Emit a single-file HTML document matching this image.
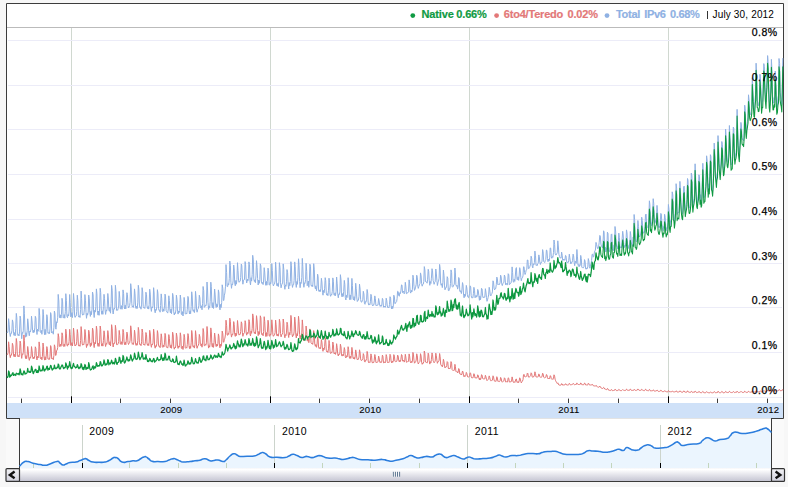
<!DOCTYPE html>
<html><head><meta charset="utf-8"><title>IPv6 adoption</title>
<style>
html,body{margin:0;padding:0;background:#f7f7f7;}
body{width:788px;height:487px;position:relative;overflow:hidden;font-family:"Liberation Sans",sans-serif;}
.t{position:absolute;white-space:nowrap;line-height:1;}
.lg{-webkit-text-stroke:0.2px currentColor;font-weight:bold;font-size:11px;top:9px;letter-spacing:-0.13px;word-spacing:-0.45px;}
.yl{-webkit-text-stroke:0.25px #000;font-size:10.5px;color:#000;text-align:right;width:40px;left:737.6px;letter-spacing:0.5px;}
.bl{-webkit-text-stroke:0.08px #000;font-size:9.6px;color:#000;letter-spacing:0.15px;}
.sl{font-size:10.5px;color:#000;letter-spacing:0.4px;}
</style></head><body>
<svg width="788" height="487" viewBox="0 0 788 487" style="position:absolute;left:0;top:0">
<defs><linearGradient id="sb" x1="0" y1="0" x2="0" y2="1"><stop offset="0" stop-color="#f6f6f8"/><stop offset="0.12" stop-color="#ffffff"/><stop offset="0.5" stop-color="#e6e6ec"/><stop offset="1" stop-color="#c6c6d3"/></linearGradient>
<linearGradient id="btn" x1="0" y1="0" x2="0" y2="1"><stop offset="0" stop-color="#f2f2f5"/><stop offset="1" stop-color="#d2d2de"/></linearGradient></defs>
<rect x="0" y="0" width="788" height="487" fill="#f7f7f7"/>
<rect x="6" y="418" width="778" height="64" fill="#fafafa"/>
<rect x="20" y="418" width="751" height="63" fill="#ffffff"/>
<rect x="20" y="418" width="751" height="1" fill="#e3e3e3"/>
<path d="M19.5 418 L19.5 481.5 M771.5 418 L771.5 481.5" fill="none" stroke="#3a3a3a" stroke-width="1"/>
<rect x="7" y="4" width="776" height="414" fill="#ffffff"/>
<path d="M19.5 418.5 L6.5 418.5 L6.5 3.5 L783.5 3.5 L783.5 418.5 L771.5 418.5" fill="none" stroke="#3c3c3c" stroke-width="1"/>
<rect x="7" y="27" width="776" height="1" fill="#bbbbbb"/>
<rect x="71" y="28" width="1" height="370" fill="#d0d8d0"/>
<rect x="270" y="28" width="1" height="370" fill="#d0d8d0"/>
<rect x="469" y="28" width="1" height="370" fill="#d0d8d0"/>
<rect x="668" y="28" width="1" height="370" fill="#d0d8d0"/>
<rect x="8" y="40" width="774" height="1" fill="#ececf8"/>
<rect x="8" y="85" width="774" height="1" fill="#ececf8"/>
<rect x="8" y="129" width="774" height="1" fill="#ececf8"/>
<rect x="8" y="174" width="774" height="1" fill="#ececf8"/>
<rect x="8" y="219" width="774" height="1" fill="#ececf8"/>
<rect x="8" y="263" width="774" height="1" fill="#ececf8"/>
<rect x="8" y="307" width="774" height="1" fill="#ececf8"/>
<rect x="8" y="352" width="774" height="1" fill="#ececf8"/>
<rect x="8" y="397" width="774" height="1" fill="#ececf8"/>
<rect x="7" y="403" width="776" height="15" fill="#cfe1f8"/>
<rect x="21" y="398.6" width="1" height="4.4" fill="#3c3c3c"/>
<rect x="71" y="396.3" width="1" height="6.7" fill="#000"/>
<rect x="120" y="398.6" width="1" height="4.4" fill="#3c3c3c"/>
<rect x="170" y="398.6" width="1" height="4.4" fill="#3c3c3c"/>
<rect x="220" y="398.6" width="1" height="4.4" fill="#3c3c3c"/>
<rect x="270" y="396.3" width="1" height="6.7" fill="#000"/>
<rect x="319" y="398.6" width="1" height="4.4" fill="#3c3c3c"/>
<rect x="369" y="398.6" width="1" height="4.4" fill="#3c3c3c"/>
<rect x="419" y="398.6" width="1" height="4.4" fill="#3c3c3c"/>
<rect x="469" y="396.3" width="1" height="6.7" fill="#000"/>
<rect x="518" y="398.6" width="1" height="4.4" fill="#3c3c3c"/>
<rect x="568" y="398.6" width="1" height="4.4" fill="#3c3c3c"/>
<rect x="618" y="398.6" width="1" height="4.4" fill="#3c3c3c"/>
<rect x="668" y="396.3" width="1" height="6.7" fill="#000"/>
<rect x="717" y="398.6" width="1" height="4.4" fill="#3c3c3c"/>
<rect x="767" y="398.6" width="1" height="4.4" fill="#3c3c3c"/>
<g fill="none" stroke-width="1" stroke-linejoin="round">
<path d="M7.0 332.4 L7.5 332.9 L8.1 330.6 L8.6 318.7 L9.2 324.2 L9.7 332.2 L10.3 336.5 L10.8 333.4 L11.4 333.5 L11.9 330.5 L12.4 319.9 L13.0 322.4 L13.5 333.4 L14.1 335.4 L14.6 332.6 L15.2 335.8 L15.7 328.5 L16.3 313.4 L16.8 317.7 L17.4 334.7 L17.9 335.4 L18.4 334.4 L19.0 335.9 L19.5 331.9 L20.1 316.1 L20.6 318.6 L21.2 332.4 L21.7 338.7 L22.3 332.4 L22.8 333.4 L23.3 330.7 L23.9 305.9 L24.4 313.4 L25.0 331.0 L25.5 337.2 L26.1 332.8 L26.6 336.4 L27.2 330.5 L27.7 318.8 L28.2 323.0 L28.8 333.2 L29.3 335.8 L29.9 331.0 L30.4 331.9 L31.0 329.0 L31.5 316.2 L32.1 322.0 L32.6 330.7 L33.2 332.8 L33.7 330.2 L34.2 332.3 L34.8 327.9 L35.3 316.3 L35.9 318.2 L36.4 329.8 L37.0 334.5 L37.5 329.1 L38.1 331.3 L38.6 329.4 L39.1 308.4 L39.7 315.8 L40.2 331.7 L40.8 332.6 L41.3 330.4 L41.9 334.3 L42.4 329.3 L43.0 309.5 L43.5 314.8 L44.0 330.0 L44.6 334.7 L45.1 329.3 L45.7 334.5 L46.2 329.3 L46.8 314.7 L47.3 316.8 L47.9 333.1 L48.4 333.5 L49.0 332.2 L49.5 333.6 L50.0 328.9 L50.6 312.6 L51.1 314.5 L51.7 333.0 L52.2 331.8 L52.8 331.9 L53.3 334.2 L53.9 327.2 L54.4 311.1 L54.9 313.4 L55.5 327.8 L56.0 329.2 L56.6 321.8 L57.1 322.7 L57.7 317.8 L58.2 294.4 L58.8 301.0 L59.3 316.1 L59.8 317.8 L60.4 314.8 L60.9 318.1 L61.5 314.7 L62.0 298.3 L62.6 301.9 L63.1 317.5 L63.7 318.1 L64.2 314.6 L64.8 318.2 L65.3 311.7 L65.8 293.7 L66.4 300.4 L66.9 316.4 L67.5 317.7 L68.0 314.5 L68.6 316.0 L69.1 311.1 L69.7 294.5 L70.2 302.3 L70.7 316.9 L71.3 316.1 L71.8 312.7 L72.4 317.6 L72.9 311.8 L73.5 293.5 L74.0 300.0 L74.6 315.9 L75.1 317.4 L75.6 316.0 L76.2 316.0 L76.7 311.7 L77.3 295.2 L77.8 300.5 L78.4 315.7 L78.9 317.1 L79.5 315.7 L80.0 317.5 L80.6 309.7 L81.1 291.1 L81.6 298.5 L82.2 313.9 L82.7 315.2 L83.3 313.9 L83.8 314.5 L84.4 309.2 L84.9 294.6 L85.5 300.8 L86.0 312.4 L86.5 318.3 L87.1 313.3 L87.6 315.1 L88.2 312.0 L88.7 295.0 L89.3 298.8 L89.8 312.3 L90.4 316.4 L90.9 311.4 L91.4 314.7 L92.0 309.2 L92.5 292.0 L93.1 294.7 L93.6 312.1 L94.2 317.5 L94.7 310.3 L95.3 312.1 L95.8 306.6 L96.4 288.9 L96.9 293.7 L97.4 310.6 L98.0 315.1 L98.5 311.2 L99.1 315.3 L99.6 308.1 L100.2 288.3 L100.7 292.6 L101.3 310.6 L101.8 314.3 L102.3 310.8 L102.9 314.3 L103.4 306.6 L104.0 294.3 L104.5 298.4 L105.1 310.2 L105.6 314.4 L106.2 310.1 L106.7 311.1 L107.2 308.0 L107.8 293.5 L108.3 298.0 L108.9 310.3 L109.4 311.3 L110.0 307.2 L110.5 313.2 L111.1 303.7 L111.6 285.4 L112.2 290.2 L112.7 310.7 L113.2 314.0 L113.8 308.7 L114.3 309.2 L114.9 307.2 L115.4 285.3 L116.0 291.8 L116.5 310.4 L117.1 309.6 L117.6 310.4 L118.1 308.8 L118.7 306.0 L119.2 291.4 L119.8 298.2 L120.3 308.9 L120.9 308.9 L121.4 305.6 L122.0 309.3 L122.5 305.7 L123.0 289.9 L123.6 293.6 L124.1 306.1 L124.7 309.0 L125.2 305.2 L125.8 308.9 L126.3 302.9 L126.9 292.7 L127.4 294.5 L128.0 305.5 L128.5 308.0 L129.0 307.0 L129.6 305.7 L130.1 302.4 L130.7 283.7 L131.2 287.9 L131.8 303.7 L132.3 307.1 L132.9 306.0 L133.4 307.4 L133.9 304.2 L134.5 288.9 L135.0 293.8 L135.6 307.0 L136.1 308.5 L136.7 306.2 L137.2 308.5 L137.8 302.2 L138.3 285.3 L138.8 289.0 L139.4 305.1 L139.9 307.5 L140.5 306.9 L141.0 309.2 L141.6 304.1 L142.1 287.7 L142.7 292.0 L143.2 306.4 L143.8 307.9 L144.3 307.6 L144.8 308.5 L145.4 304.1 L145.9 292.2 L146.5 294.7 L147.0 306.3 L147.6 308.6 L148.1 306.5 L148.7 309.1 L149.2 304.4 L149.7 289.2 L150.3 294.1 L150.8 307.5 L151.4 311.4 L151.9 306.9 L152.5 307.9 L153.0 305.8 L153.6 287.7 L154.1 293.0 L154.6 310.1 L155.2 312.8 L155.7 309.4 L156.3 310.3 L156.8 306.8 L157.4 289.7 L157.9 293.3 L158.5 308.3 L159.0 310.5 L159.6 310.2 L160.1 312.2 L160.6 305.6 L161.2 293.9 L161.7 298.2 L162.3 311.0 L162.8 311.7 L163.4 308.9 L163.9 311.2 L164.5 305.9 L165.0 294.1 L165.5 296.1 L166.1 310.4 L166.6 311.7 L167.2 312.2 L167.7 313.1 L168.3 308.9 L168.8 295.8 L169.4 300.6 L169.9 309.9 L170.4 312.8 L171.0 309.0 L171.5 313.7 L172.1 306.7 L172.6 293.4 L173.2 296.3 L173.7 311.9 L174.3 315.0 L174.8 312.8 L175.4 313.5 L175.9 309.8 L176.4 295.2 L177.0 299.7 L177.5 311.3 L178.1 314.1 L178.6 310.9 L179.2 312.6 L179.7 310.5 L180.3 295.0 L180.8 299.2 L181.3 314.2 L181.9 314.7 L182.4 311.6 L183.0 316.0 L183.5 311.8 L184.1 297.4 L184.6 301.0 L185.2 313.5 L185.7 314.2 L186.2 313.2 L186.8 313.9 L187.3 309.3 L187.9 296.4 L188.4 297.9 L189.0 310.4 L189.5 314.0 L190.1 310.8 L190.6 313.7 L191.2 306.6 L191.7 291.8 L192.2 296.0 L192.8 310.3 L193.3 311.4 L193.9 309.7 L194.4 312.6 L195.0 308.1 L195.5 291.4 L196.1 298.1 L196.6 310.3 L197.1 312.2 L197.7 309.4 L198.2 308.8 L198.8 305.8 L199.3 295.2 L199.9 298.0 L200.4 306.8 L201.0 308.1 L201.5 305.8 L202.0 309.8 L202.6 303.3 L203.1 286.5 L203.7 290.7 L204.2 307.3 L204.8 307.0 L205.3 305.4 L205.9 306.0 L206.4 303.2 L207.0 282.0 L207.5 289.0 L208.0 302.6 L208.6 309.4 L209.1 306.1 L209.7 307.8 L210.2 301.3 L210.8 282.2 L211.3 286.4 L211.9 305.9 L212.4 307.8 L212.9 302.6 L213.5 308.5 L214.0 302.0 L214.6 289.0 L215.1 294.1 L215.7 304.9 L216.2 307.5 L216.8 303.8 L217.3 306.9 L217.9 303.6 L218.4 289.9 L218.9 292.9 L219.5 307.2 L220.0 309.9 L220.6 304.4 L221.1 307.6 L221.7 302.7 L222.2 284.8 L222.8 288.4 L223.3 300.4 L223.8 300.5 L224.4 295.2 L224.9 293.0 L225.5 286.2 L226.0 264.6 L226.6 272.6 L227.1 286.5 L227.7 286.6 L228.2 283.6 L228.7 284.9 L229.3 278.7 L229.8 261.1 L230.4 265.6 L230.9 282.4 L231.5 288.3 L232.0 284.0 L232.6 284.7 L233.1 280.9 L233.7 265.0 L234.2 268.9 L234.7 283.0 L235.3 285.8 L235.8 280.5 L236.4 284.2 L236.9 279.7 L237.5 262.7 L238.0 270.4 L238.6 280.8 L239.1 282.3 L239.6 281.4 L240.2 281.2 L240.7 277.4 L241.3 264.1 L241.8 265.8 L242.4 279.1 L242.9 284.2 L243.5 280.3 L244.0 280.1 L244.5 279.0 L245.1 261.6 L245.6 264.8 L246.2 279.5 L246.7 283.0 L247.3 279.0 L247.8 281.1 L248.4 278.7 L248.9 261.9 L249.5 264.5 L250.0 281.9 L250.5 284.9 L251.1 277.7 L251.6 281.1 L252.2 274.5 L252.7 255.3 L253.3 259.8 L253.8 278.9 L254.4 281.5 L254.9 279.9 L255.4 282.7 L256.0 275.1 L256.5 260.7 L257.1 267.5 L257.6 278.7 L258.2 285.0 L258.7 280.1 L259.3 283.3 L259.8 279.7 L260.3 263.8 L260.9 266.0 L261.4 282.0 L262.0 283.5 L262.5 282.5 L263.1 284.6 L263.6 281.0 L264.2 267.7 L264.7 272.1 L265.3 281.4 L265.8 285.3 L266.3 281.3 L266.9 285.2 L267.4 281.5 L268.0 268.1 L268.5 270.3 L269.1 284.5 L269.6 285.2 L270.2 282.5 L270.7 283.9 L271.2 280.9 L271.8 263.6 L272.3 270.6 L272.9 283.8 L273.4 285.9 L274.0 284.5 L274.5 284.0 L275.1 280.9 L275.6 262.2 L276.1 269.7 L276.7 285.0 L277.2 286.0 L277.8 283.4 L278.3 286.6 L278.9 281.8 L279.4 262.7 L280.0 267.5 L280.5 282.8 L281.1 287.8 L281.6 284.8 L282.1 284.2 L282.7 282.1 L283.2 263.9 L283.8 269.7 L284.3 285.4 L284.9 289.3 L285.4 284.9 L286.0 286.3 L286.5 281.8 L287.0 269.6 L287.6 272.7 L288.1 284.1 L288.7 289.0 L289.2 282.6 L289.8 285.7 L290.3 281.5 L290.9 261.7 L291.4 265.8 L291.9 283.4 L292.5 287.4 L293.0 284.7 L293.6 284.7 L294.1 280.6 L294.7 261.9 L295.2 266.6 L295.8 283.7 L296.3 287.4 L296.9 281.5 L297.4 284.3 L297.9 277.4 L298.5 258.8 L299.0 265.2 L299.6 281.5 L300.1 287.7 L300.7 282.4 L301.2 283.4 L301.8 277.3 L302.3 258.4 L302.8 266.4 L303.4 284.0 L303.9 287.3 L304.5 282.8 L305.0 283.3 L305.6 279.6 L306.1 263.3 L306.7 271.4 L307.2 285.7 L307.7 284.8 L308.3 281.0 L308.8 287.3 L309.4 280.0 L309.9 264.2 L310.5 266.3 L311.0 285.1 L311.6 286.3 L312.1 285.0 L312.7 286.6 L313.2 280.0 L313.7 263.7 L314.3 269.8 L314.8 286.2 L315.4 288.9 L315.9 285.8 L316.5 290.7 L317.0 286.3 L317.6 274.2 L318.1 276.6 L318.6 290.9 L319.2 291.6 L319.7 289.9 L320.3 291.6 L320.8 288.8 L321.4 278.3 L321.9 282.1 L322.5 292.4 L323.0 295.2 L323.5 290.5 L324.1 292.7 L324.6 288.8 L325.2 277.7 L325.7 280.5 L326.3 293.2 L326.8 295.1 L327.4 293.7 L327.9 295.7 L328.5 290.2 L329.0 278.2 L329.5 282.6 L330.1 294.7 L330.6 296.3 L331.2 294.4 L331.7 295.1 L332.3 291.3 L332.8 277.9 L333.4 281.3 L333.9 294.6 L334.4 295.4 L335.0 292.9 L335.5 295.7 L336.1 291.2 L336.6 277.0 L337.2 283.8 L337.7 294.2 L338.3 297.8 L338.8 293.9 L339.3 294.5 L339.9 291.9 L340.4 274.7 L341.0 279.8 L341.5 295.7 L342.1 296.9 L342.6 293.6 L343.2 296.4 L343.7 291.5 L344.3 280.4 L344.8 284.4 L345.3 297.5 L345.9 300.0 L346.4 295.3 L347.0 297.6 L347.5 293.9 L348.1 277.7 L348.6 282.9 L349.2 297.1 L349.7 299.7 L350.2 294.9 L350.8 299.6 L351.3 294.2 L351.9 278.4 L352.4 285.5 L353.0 298.5 L353.5 300.0 L354.1 296.6 L354.6 300.5 L355.1 296.7 L355.7 283.3 L356.2 288.3 L356.8 298.0 L357.3 301.5 L357.9 300.3 L358.4 300.2 L359.0 296.3 L359.5 284.2 L360.1 289.1 L360.6 299.4 L361.1 301.9 L361.7 302.2 L362.2 300.9 L362.8 299.3 L363.3 291.3 L363.9 294.0 L364.4 303.2 L365.0 304.3 L365.5 301.6 L366.0 302.1 L366.6 299.2 L367.1 289.5 L367.7 293.1 L368.2 302.9 L368.8 305.1 L369.3 303.9 L369.9 304.7 L370.4 301.8 L370.9 294.3 L371.5 296.3 L372.0 304.3 L372.6 305.8 L373.1 304.8 L373.7 305.3 L374.2 302.9 L374.8 295.9 L375.3 298.4 L375.9 305.3 L376.4 305.9 L376.9 305.1 L377.5 305.2 L378.0 305.1 L378.6 298.5 L379.1 301.0 L379.7 305.2 L380.2 306.4 L380.8 305.2 L381.3 306.3 L381.8 305.0 L382.4 298.4 L382.9 299.7 L383.5 307.1 L384.0 307.0 L384.6 306.1 L385.1 307.4 L385.7 305.7 L386.2 298.2 L386.7 300.3 L387.3 306.0 L387.8 307.7 L388.4 307.1 L388.9 307.9 L389.5 304.6 L390.0 296.7 L390.6 298.2 L391.1 306.0 L391.7 309.0 L392.2 306.1 L392.7 308.6 L393.3 306.0 L393.8 295.2 L394.4 296.9 L394.9 303.7 L395.5 303.3 L396.0 302.2 L396.6 301.6 L397.1 298.6 L397.6 291.3 L398.2 291.7 L398.7 295.6 L399.3 296.2 L399.8 292.7 L400.4 293.6 L400.9 290.8 L401.5 284.9 L402.0 285.1 L402.5 292.6 L403.1 292.4 L403.6 291.2 L404.2 293.8 L404.7 292.4 L405.3 282.3 L405.8 286.1 L406.4 293.7 L406.9 293.6 L407.5 292.7 L408.0 292.7 L408.5 291.8 L409.1 279.9 L409.6 283.1 L410.2 291.7 L410.7 293.1 L411.3 290.3 L411.8 292.0 L412.4 289.2 L412.9 275.2 L413.4 277.4 L414.0 286.6 L414.5 290.4 L415.1 289.0 L415.6 287.2 L416.2 284.3 L416.7 275.2 L417.3 277.2 L417.8 286.3 L418.3 288.4 L418.9 286.3 L419.4 284.8 L420.0 283.4 L420.5 272.9 L421.1 275.8 L421.6 283.6 L422.2 286.2 L422.7 284.4 L423.3 284.1 L423.8 281.4 L424.3 266.6 L424.9 270.1 L425.4 281.4 L426.0 281.4 L426.5 282.3 L427.1 283.2 L427.6 279.8 L428.2 269.3 L428.7 271.4 L429.2 280.1 L429.8 285.3 L430.3 281.5 L430.9 283.5 L431.4 278.2 L432.0 268.7 L432.5 270.9 L433.1 280.4 L433.6 281.9 L434.1 284.3 L434.7 282.3 L435.2 281.7 L435.8 269.0 L436.3 273.1 L436.9 280.4 L437.4 285.5 L438.0 282.6 L438.5 281.5 L439.1 278.2 L439.6 264.4 L440.1 268.1 L440.7 283.7 L441.2 285.3 L441.8 283.6 L442.3 287.6 L442.9 282.3 L443.4 270.1 L444.0 275.6 L444.5 285.9 L445.0 289.8 L445.6 287.8 L446.1 287.9 L446.7 285.0 L447.2 276.7 L447.8 278.2 L448.3 290.4 L448.9 290.9 L449.4 288.6 L449.9 288.6 L450.5 283.5 L451.0 269.9 L451.6 272.4 L452.1 286.3 L452.7 287.2 L453.2 286.5 L453.8 285.0 L454.3 284.2 L454.9 268.0 L455.4 272.9 L455.9 284.9 L456.5 286.3 L457.0 285.3 L457.6 289.1 L458.1 287.2 L458.7 277.5 L459.2 278.5 L459.8 291.4 L460.3 291.8 L460.8 290.6 L461.4 293.6 L461.9 290.2 L462.5 282.6 L463.0 284.8 L463.6 295.2 L464.1 297.8 L464.7 294.1 L465.2 296.4 L465.7 294.0 L466.3 285.4 L466.8 288.0 L467.4 294.4 L467.9 297.1 L468.5 297.7 L469.0 295.8 L469.6 293.5 L470.1 285.8 L470.7 286.8 L471.2 295.7 L471.7 297.8 L472.3 297.7 L472.8 298.0 L473.4 293.7 L473.9 287.3 L474.5 290.2 L475.0 297.8 L475.6 297.1 L476.1 295.3 L476.6 297.2 L477.2 296.0 L477.7 289.4 L478.3 290.9 L478.8 295.6 L479.4 300.3 L479.9 295.9 L480.5 299.8 L481.0 296.3 L481.5 288.3 L482.1 289.1 L482.6 295.9 L483.2 297.8 L483.7 297.1 L484.3 297.2 L484.8 297.3 L485.4 288.7 L485.9 292.0 L486.5 297.6 L487.0 301.3 L487.5 299.9 L488.1 297.6 L488.6 294.9 L489.2 287.3 L489.7 289.9 L490.3 295.4 L490.8 296.0 L491.4 294.5 L491.9 293.5 L492.4 291.9 L493.0 280.8 L493.5 282.1 L494.1 288.4 L494.6 289.9 L495.2 288.4 L495.7 288.7 L496.3 284.5 L496.8 277.1 L497.3 278.2 L497.9 284.7 L498.4 284.0 L499.0 284.7 L499.5 284.4 L500.1 282.7 L500.6 275.2 L501.2 277.1 L501.7 283.8 L502.3 285.6 L502.8 283.8 L503.3 282.9 L503.9 282.2 L504.4 275.0 L505.0 276.8 L505.5 284.7 L506.1 283.2 L506.6 284.1 L507.2 285.1 L507.7 282.3 L508.2 273.7 L508.8 274.8 L509.3 284.7 L509.9 283.5 L510.4 283.6 L511.0 283.0 L511.5 280.2 L512.1 266.9 L512.6 272.6 L513.1 281.2 L513.7 282.3 L514.2 279.2 L514.8 281.4 L515.3 276.1 L515.9 268.5 L516.4 267.6 L517.0 279.7 L517.5 279.6 L518.1 276.8 L518.6 280.4 L519.1 276.2 L519.7 267.7 L520.2 270.0 L520.8 277.3 L521.3 280.7 L521.9 278.3 L522.4 277.8 L523.0 275.9 L523.5 266.9 L524.0 266.7 L524.6 272.7 L525.1 274.5 L525.7 272.5 L526.2 270.0 L526.8 269.3 L527.3 260.0 L527.9 260.0 L528.4 268.5 L528.9 268.7 L529.5 267.7 L530.0 266.2 L530.6 264.0 L531.1 256.2 L531.7 258.2 L532.2 265.9 L532.8 267.9 L533.3 263.8 L533.9 264.8 L534.4 262.6 L534.9 251.1 L535.5 255.8 L536.0 265.4 L536.6 265.0 L537.1 265.7 L537.7 263.7 L538.2 263.4 L538.8 254.9 L539.3 256.6 L539.8 262.4 L540.4 264.5 L540.9 262.3 L541.5 262.6 L542.0 261.2 L542.6 249.6 L543.1 251.5 L543.7 261.4 L544.2 262.1 L544.7 262.6 L545.3 260.6 L545.8 259.6 L546.4 250.0 L546.9 250.4 L547.5 258.7 L548.0 261.7 L548.6 259.1 L549.1 261.1 L549.7 257.8 L550.2 247.9 L550.7 248.2 L551.3 256.8 L551.8 258.3 L552.4 256.5 L552.9 257.3 L553.5 252.4 L554.0 240.0 L554.6 244.4 L555.1 253.3 L555.6 254.9 L556.2 254.9 L556.7 254.0 L557.3 252.5 L557.8 240.8 L558.4 247.0 L558.9 254.3 L559.5 256.5 L560.0 257.9 L560.5 257.9 L561.1 258.1 L561.6 252.1 L562.2 255.2 L562.7 260.6 L563.3 260.2 L563.8 259.0 L564.4 260.1 L564.9 260.2 L565.5 255.4 L566.0 255.8 L566.5 261.1 L567.1 262.8 L567.6 262.2 L568.2 262.6 L568.7 260.8 L569.3 254.2 L569.8 257.7 L570.4 262.0 L570.9 264.0 L571.4 262.3 L572.0 262.6 L572.5 260.6 L573.1 254.2 L573.6 255.8 L574.2 262.6 L574.7 265.7 L575.3 261.2 L575.8 262.6 L576.3 263.3 L576.9 249.5 L577.4 256.1 L578.0 265.2 L578.5 264.6 L579.1 266.8 L579.6 264.7 L580.2 265.4 L580.7 255.4 L581.3 258.5 L581.8 267.3 L582.3 267.5 L582.9 267.7 L583.4 267.8 L584.0 266.5 L584.5 259.6 L585.1 261.2 L585.6 268.8 L586.2 269.2 L586.7 267.9 L587.2 268.7 L587.8 266.9 L588.3 258.6 L588.9 261.2 L589.4 266.6 L590.0 268.3 L590.5 264.6 L591.1 263.6 L591.6 260.4 L592.1 254.3 L592.7 254.2 L593.2 257.2 L593.8 256.4 L594.3 252.9 L594.9 250.9 L595.4 250.1 L596.0 242.4 L596.5 244.3 L597.1 246.8 L597.6 248.5 L598.1 248.7 L598.7 246.1 L599.2 242.5 L599.8 235.4 L600.3 236.1 L600.9 244.1 L601.4 246.1 L602.0 246.9 L602.5 247.9 L603.0 242.6 L603.6 230.8 L604.1 232.2 L604.7 249.6 L605.2 247.1 L605.8 252.0 L606.3 249.9 L606.9 247.7 L607.4 232.2 L608.0 233.6 L608.5 249.4 L609.0 251.8 L609.6 251.4 L610.1 248.0 L610.7 246.3 L611.2 234.6 L611.8 233.9 L612.3 248.7 L612.9 250.3 L613.4 250.8 L613.9 244.9 L614.5 244.8 L615.0 226.5 L615.6 231.0 L616.1 242.1 L616.7 246.6 L617.2 246.3 L617.8 248.9 L618.3 243.5 L618.8 233.1 L619.4 237.7 L619.9 247.8 L620.5 247.8 L621.0 246.6 L621.6 247.9 L622.1 239.2 L622.7 231.3 L623.2 235.0 L623.8 244.7 L624.3 247.7 L624.8 245.4 L625.4 246.3 L625.9 242.5 L626.5 229.9 L627.0 233.0 L627.6 244.7 L628.1 245.8 L628.7 248.5 L629.2 244.6 L629.7 244.6 L630.3 231.5 L630.8 235.3 L631.4 243.9 L631.9 244.3 L632.5 246.4 L633.0 237.3 L633.6 238.3 L634.1 214.5 L634.6 219.2 L635.2 239.4 L635.7 239.7 L636.3 241.9 L636.8 240.4 L637.4 232.8 L637.9 220.5 L638.5 226.3 L639.0 235.1 L639.6 237.0 L640.1 235.7 L640.6 235.0 L641.2 230.9 L641.7 217.2 L642.3 220.6 L642.8 230.7 L643.4 233.3 L643.9 232.1 L644.5 232.3 L645.0 226.5 L645.5 214.6 L646.1 214.0 L646.6 224.4 L647.2 226.7 L647.7 227.5 L648.3 228.1 L648.8 219.2 L649.4 200.8 L649.9 204.7 L650.4 223.6 L651.0 222.6 L651.5 225.7 L652.1 219.8 L652.6 214.6 L653.2 198.7 L653.7 203.2 L654.3 219.4 L654.8 223.4 L655.4 222.2 L655.9 218.8 L656.4 217.9 L657.0 205.4 L657.5 211.2 L658.1 224.0 L658.6 226.9 L659.2 227.9 L659.7 225.5 L660.3 221.4 L660.8 213.4 L661.3 214.1 L661.9 223.7 L662.4 227.4 L663.0 230.9 L663.5 226.7 L664.1 227.0 L664.6 214.3 L665.2 217.4 L665.7 226.2 L666.2 230.7 L666.8 227.7 L667.3 228.5 L667.9 222.5 L668.4 204.5 L669.0 209.6 L669.5 222.4 L670.1 226.4 L670.6 220.3 L671.2 220.4 L671.7 210.5 L672.2 191.8 L672.8 194.9 L673.3 213.6 L673.9 214.8 L674.4 222.2 L675.0 216.9 L675.5 208.0 L676.1 183.7 L676.6 188.1 L677.1 214.5 L677.7 212.3 L678.2 212.4 L678.8 212.9 L679.3 205.3 L679.9 181.4 L680.4 189.0 L681.0 202.8 L681.5 208.4 L682.0 212.7 L682.6 213.9 L683.1 204.8 L683.7 186.8 L684.2 186.1 L684.8 202.5 L685.3 210.9 L685.9 206.8 L686.4 204.2 L687.0 199.4 L687.5 178.5 L688.0 180.3 L688.6 201.7 L689.1 207.6 L689.7 207.9 L690.2 205.7 L690.8 198.9 L691.3 173.1 L691.9 175.9 L692.4 200.0 L692.9 206.8 L693.5 200.7 L694.0 198.3 L694.6 193.1 L695.1 163.8 L695.7 179.3 L696.2 191.3 L696.8 201.6 L697.3 203.2 L697.8 197.9 L698.4 194.1 L698.9 174.8 L699.5 176.8 L700.0 198.6 L700.6 194.7 L701.1 201.9 L701.7 200.3 L702.2 186.4 L702.8 163.3 L703.3 173.4 L703.8 197.8 L704.4 196.6 L704.9 196.3 L705.5 186.5 L706.0 181.3 L706.6 155.8 L707.1 160.0 L707.7 176.7 L708.2 192.0 L708.7 183.8 L709.3 188.7 L709.8 176.5 L710.4 154.7 L710.9 156.4 L711.5 184.5 L712.0 186.0 L712.6 191.1 L713.1 183.4 L713.6 170.3 L714.2 143.1 L714.7 150.6 L715.3 170.1 L715.8 175.0 L716.4 182.4 L716.9 175.0 L717.5 171.9 L718.0 135.6 L718.6 148.1 L719.1 163.6 L719.6 167.8 L720.2 174.3 L720.7 167.0 L721.3 158.2 L721.8 141.5 L722.4 144.5 L722.9 161.9 L723.5 170.5 L724.0 169.2 L724.5 163.0 L725.1 157.6 L725.6 129.2 L726.2 137.7 L726.7 154.9 L727.3 161.2 L727.8 162.5 L728.4 157.1 L728.9 150.8 L729.4 125.5 L730.0 137.8 L730.5 151.0 L731.1 164.8 L731.6 163.8 L732.2 163.6 L732.7 151.0 L733.3 127.1 L733.8 128.3 L734.4 151.6 L734.9 158.7 L735.4 154.9 L736.0 152.5 L736.5 148.6 L737.1 109.4 L737.6 126.0 L738.2 145.2 L738.7 150.9 L739.3 156.3 L739.8 145.2 L740.3 137.7 L740.9 122.4 L741.4 125.0 L742.0 137.7 L742.5 139.5 L743.1 139.2 L743.6 140.9 L744.2 131.9 L744.7 105.2 L745.2 108.7 L745.8 127.2 L746.3 132.8 L746.9 124.9 L747.4 121.7 L748.0 117.1 L748.5 94.8 L749.1 101.0 L749.6 112.1 L750.2 114.9 L750.7 113.8 L751.2 111.5 L751.8 107.4 L752.3 77.7 L752.9 90.3 L753.4 101.6 L754.0 110.9 L754.5 111.5 L755.1 99.7 L755.6 94.3 L756.1 63.2 L756.7 76.6 L757.2 101.1 L757.8 102.0 L758.3 105.6 L758.9 105.3 L759.4 100.5 L760.0 74.3 L760.5 80.3 L761.0 93.4 L761.6 107.0 L762.1 101.1 L762.7 101.3 L763.2 85.8 L763.8 63.6 L764.3 66.4 L764.9 85.0 L765.4 94.7 L766.0 102.0 L766.5 87.7 L767.0 80.8 L767.6 55.6 L768.1 61.4 L768.7 84.0 L769.2 101.1 L769.8 105.5 L770.3 95.9 L770.9 85.1 L771.4 59.4 L771.9 69.5 L772.5 94.8 L773.0 103.1 L773.6 103.0 L774.1 97.7 L774.7 99.8 L775.2 71.1 L775.8 77.9 L776.3 96.9 L776.8 107.3 L777.4 105.6 L777.9 98.2 L778.5 95.3 L779.0 58.5 L779.6 63.4 L780.1 92.3 L780.7 97.0 L781.2 99.2 L781.8 104.6 L782.3 85.6 L782.8 58.1" stroke="#8fb1e3"/>
<path d="M7.0 354.3 L7.5 354.8 L8.1 352.6 L8.6 341.8 L9.2 346.6 L9.7 354.1 L10.3 357.7 L10.8 355.0 L11.4 355.2 L11.9 352.5 L12.4 343.3 L13.0 345.6 L13.5 355.0 L14.1 356.7 L14.6 354.3 L15.2 356.9 L15.7 351.1 L16.3 338.5 L16.8 342.2 L17.4 355.9 L17.9 356.6 L18.4 355.6 L19.0 356.9 L19.5 353.6 L20.1 341.1 L20.6 343.3 L21.2 354.1 L21.7 358.4 L22.3 353.8 L22.8 354.6 L23.3 352.5 L23.9 334.9 L24.4 340.6 L25.0 353.9 L25.5 358.5 L26.1 355.7 L26.6 358.7 L27.2 354.8 L27.7 346.5 L28.2 349.9 L28.8 358.1 L29.3 360.4 L29.9 357.5 L30.4 358.2 L31.0 356.0 L31.5 346.6 L32.1 350.8 L32.6 357.4 L33.2 358.9 L33.7 357.1 L34.2 358.5 L34.8 355.4 L35.3 346.8 L35.9 348.4 L36.4 356.9 L37.0 360.0 L37.5 356.4 L38.1 357.9 L38.6 356.3 L39.1 341.9 L39.7 346.9 L40.2 358.1 L40.8 358.8 L41.3 357.2 L41.9 359.8 L42.4 356.4 L43.0 343.0 L43.5 346.7 L44.0 357.1 L44.6 360.1 L45.1 356.7 L45.7 359.9 L46.2 356.5 L46.8 346.6 L47.3 348.3 L47.9 358.9 L48.4 359.4 L49.0 358.4 L49.5 359.4 L50.0 356.3 L50.6 345.6 L51.1 347.1 L51.7 358.9 L52.2 358.4 L52.8 358.2 L53.3 359.7 L53.9 355.4 L54.4 344.8 L54.9 346.6 L55.5 355.3 L56.0 355.4 L56.6 350.5 L57.1 350.3 L57.7 347.5 L58.2 333.7 L58.8 337.2 L59.3 346.3 L59.8 346.5 L60.4 344.2 L60.9 346.4 L61.5 344.0 L62.0 332.8 L62.6 335.4 L63.1 345.9 L63.7 346.5 L64.2 344.0 L64.8 346.4 L65.3 342.0 L65.8 329.2 L66.4 333.8 L66.9 345.1 L67.5 346.2 L68.0 343.9 L68.6 345.0 L69.1 341.5 L69.7 329.3 L70.2 334.7 L70.7 345.4 L71.3 345.2 L71.8 342.7 L72.4 346.0 L72.9 341.8 L73.5 328.1 L74.0 332.8 L74.6 344.7 L75.1 346.0 L75.6 344.9 L76.2 345.1 L76.7 341.8 L77.3 329.5 L77.8 333.5 L78.4 344.9 L78.9 346.1 L79.5 344.9 L80.0 346.3 L80.6 340.7 L81.1 326.6 L81.6 332.0 L82.2 344.0 L82.7 345.2 L83.3 344.1 L83.8 344.7 L84.4 340.8 L84.9 329.5 L85.5 334.1 L86.0 343.3 L86.5 347.5 L87.1 344.0 L87.6 345.4 L88.2 343.0 L88.7 330.2 L89.3 333.2 L89.8 343.6 L90.4 346.6 L90.9 343.0 L91.4 345.4 L92.0 341.3 L92.5 328.1 L93.1 330.4 L93.6 343.7 L94.2 347.6 L94.7 342.5 L95.3 344.0 L95.8 339.8 L96.4 326.2 L96.9 329.9 L97.4 343.0 L98.0 346.3 L98.5 343.4 L99.1 346.4 L99.6 341.1 L100.2 326.0 L100.7 329.5 L101.3 343.3 L101.8 346.1 L102.3 343.5 L102.9 346.1 L103.4 340.6 L104.0 330.8 L104.5 334.1 L105.1 343.4 L105.6 346.5 L106.2 343.4 L106.7 344.3 L107.2 341.8 L107.8 330.6 L108.3 334.1 L108.9 343.8 L109.4 344.8 L110.0 341.7 L110.5 346.0 L111.1 339.1 L111.6 324.7 L112.2 328.7 L112.7 344.4 L113.2 347.0 L113.8 343.1 L114.3 343.7 L114.9 341.9 L115.4 325.3 L116.0 330.3 L116.5 344.6 L117.1 344.3 L117.6 344.7 L118.1 343.8 L118.7 341.6 L119.2 330.4 L119.8 335.4 L120.3 344.0 L120.9 344.2 L121.4 341.7 L122.0 344.6 L122.5 341.7 L123.0 329.4 L123.6 332.5 L124.1 342.5 L124.7 344.7 L125.2 342.0 L125.8 344.7 L126.3 340.3 L126.9 332.1 L127.4 333.8 L128.0 342.5 L128.5 344.5 L129.0 343.5 L129.6 342.9 L130.1 340.2 L130.7 325.8 L131.2 329.2 L131.8 341.6 L132.3 344.3 L132.9 343.4 L133.4 344.5 L133.9 341.9 L134.5 330.2 L135.0 333.9 L135.6 344.1 L136.1 345.4 L136.7 343.5 L137.2 345.2 L137.8 340.5 L138.3 327.4 L138.8 330.4 L139.4 342.8 L139.9 344.7 L140.5 344.0 L141.0 345.7 L141.6 341.8 L142.1 329.0 L142.7 332.5 L143.2 343.7 L143.8 344.9 L144.3 344.4 L144.8 345.3 L145.4 341.9 L145.9 332.5 L146.5 334.6 L147.0 343.6 L147.6 345.4 L148.1 343.7 L148.7 345.6 L149.2 342.0 L149.7 330.3 L150.3 334.0 L150.8 344.4 L151.4 347.3 L151.9 344.0 L152.5 344.8 L153.0 342.9 L153.6 329.2 L154.1 333.2 L154.6 346.2 L155.2 348.2 L155.7 345.7 L156.3 346.5 L156.8 343.7 L157.4 330.6 L157.9 333.5 L158.5 345.0 L159.0 346.7 L159.6 346.2 L160.1 347.7 L160.6 342.9 L161.2 333.8 L161.7 337.0 L162.3 346.8 L162.8 347.4 L163.4 345.2 L163.9 346.9 L164.5 342.9 L165.0 333.4 L165.5 335.2 L166.1 346.1 L166.6 347.3 L167.2 347.3 L167.7 348.1 L168.3 344.9 L168.8 334.6 L169.4 338.3 L169.9 345.7 L170.4 347.8 L171.0 344.9 L171.5 348.3 L172.1 343.0 L172.6 332.2 L173.2 334.7 L173.7 346.8 L174.3 349.2 L174.8 347.4 L175.4 348.0 L175.9 345.0 L176.4 333.2 L177.0 336.8 L177.5 346.2 L178.1 348.4 L178.6 345.9 L179.2 347.2 L179.7 345.3 L180.3 332.8 L180.8 336.2 L181.3 348.1 L181.9 348.7 L182.4 346.2 L183.0 349.5 L183.5 346.1 L184.1 334.3 L184.6 337.2 L185.2 347.5 L185.7 348.3 L186.2 347.4 L186.8 348.1 L187.3 344.4 L187.9 333.6 L188.4 335.2 L189.0 345.7 L189.5 348.6 L190.1 346.0 L190.6 348.4 L191.2 342.8 L191.7 330.5 L192.2 334.0 L192.8 346.0 L193.3 347.2 L193.9 345.7 L194.4 348.1 L195.0 344.5 L195.5 330.7 L196.1 336.2 L196.6 346.6 L197.1 348.3 L197.7 346.0 L198.2 345.8 L198.8 343.3 L199.3 334.4 L199.9 336.9 L200.4 344.6 L201.0 345.8 L201.5 343.9 L202.0 347.2 L202.6 342.1 L203.1 328.5 L203.7 332.1 L204.2 345.6 L204.8 345.8 L205.3 344.4 L205.9 345.2 L206.4 342.8 L207.0 326.5 L207.5 332.0 L208.0 343.1 L208.6 348.1 L209.1 345.7 L209.7 347.1 L210.2 342.3 L210.8 327.9 L211.3 331.2 L211.9 345.6 L212.4 347.1 L212.9 343.4 L213.5 347.4 L214.0 342.8 L214.6 333.0 L215.1 336.8 L215.7 344.8 L216.2 346.6 L216.8 344.0 L217.3 346.1 L217.9 343.6 L218.4 333.9 L218.9 336.2 L219.5 346.1 L220.0 347.9 L220.6 344.2 L221.1 346.3 L221.7 343.0 L222.2 331.1 L222.8 333.8 L223.3 342.0 L223.8 342.3 L224.4 339.1 L224.9 338.2 L225.5 334.1 L226.0 320.2 L226.6 325.4 L227.1 334.9 L227.7 335.3 L228.2 333.3 L228.7 334.4 L229.3 330.3 L229.8 318.2 L230.4 321.4 L230.9 333.1 L231.5 337.1 L232.0 334.4 L232.6 335.1 L233.1 332.5 L233.7 321.6 L234.2 324.4 L234.7 334.4 L235.3 336.4 L235.8 333.0 L236.4 335.6 L236.9 332.5 L237.5 320.5 L238.0 325.9 L238.6 333.8 L239.1 335.1 L239.6 334.3 L240.2 334.4 L240.7 331.6 L241.3 321.8 L241.8 323.3 L242.4 332.9 L242.9 336.3 L243.5 333.6 L244.0 333.6 L244.5 332.5 L245.1 320.7 L245.6 322.8 L246.2 332.9 L246.7 335.2 L247.3 332.4 L247.8 333.8 L248.4 331.9 L248.9 319.7 L249.5 321.6 L250.0 333.9 L250.5 336.0 L251.1 331.0 L251.6 333.3 L252.2 328.4 L252.7 313.9 L253.3 317.2 L253.8 331.4 L254.4 333.4 L254.9 331.9 L255.4 333.9 L256.0 327.9 L256.5 315.7 L257.1 321.0 L257.6 330.7 L258.2 335.7 L258.7 331.6 L259.3 334.4 L259.8 330.9 L260.3 315.8 L260.9 317.9 L261.4 333.2 L262.0 334.8 L262.5 333.6 L263.1 335.8 L263.6 331.7 L264.2 316.7 L264.7 321.3 L265.3 332.3 L265.8 336.5 L266.3 332.5 L266.9 336.3 L267.4 332.6 L268.0 320.2 L268.5 323.0 L269.1 335.5 L269.6 336.3 L270.2 334.1 L270.7 335.2 L271.2 332.7 L271.8 319.8 L272.3 325.0 L272.9 334.8 L273.4 336.3 L274.0 335.1 L274.5 334.9 L275.1 332.6 L275.6 320.1 L276.1 324.8 L276.7 335.2 L277.2 336.0 L277.8 334.1 L278.3 336.2 L278.9 332.8 L279.4 319.3 L280.0 322.6 L280.5 333.5 L281.1 336.9 L281.6 334.7 L282.1 334.5 L282.7 332.6 L283.2 319.0 L283.8 323.2 L284.3 334.9 L284.9 337.8 L285.4 334.6 L286.0 335.6 L286.5 332.1 L287.0 322.2 L287.6 324.6 L288.1 333.8 L288.7 337.5 L289.2 332.5 L289.8 334.9 L290.3 331.4 L290.9 315.4 L291.4 319.1 L291.9 333.6 L292.5 336.9 L293.0 334.8 L293.6 335.2 L294.1 331.9 L294.7 317.1 L295.2 321.2 L295.8 334.9 L296.3 337.9 L296.9 333.6 L297.4 335.9 L297.9 330.8 L298.5 316.3 L299.0 321.4 L299.6 334.4 L300.1 339.1 L300.7 335.6 L301.2 336.9 L301.8 332.9 L302.3 319.9 L302.8 325.8 L303.4 338.2 L303.9 340.8 L304.5 338.1 L305.0 338.8 L305.6 336.5 L306.1 326.0 L306.7 331.3 L307.2 341.0 L307.7 340.9 L308.3 338.8 L308.8 342.7 L309.4 338.5 L309.9 328.9 L310.5 330.7 L311.0 342.6 L311.6 343.7 L312.1 343.1 L312.7 344.4 L313.2 340.7 L313.7 330.6 L314.3 334.4 L314.8 344.5 L315.4 346.3 L315.9 344.4 L316.5 347.3 L317.0 344.6 L317.6 336.9 L318.1 338.6 L318.6 347.7 L319.2 348.5 L319.7 347.5 L320.3 348.8 L320.8 346.9 L321.4 339.6 L321.9 342.1 L322.5 349.4 L323.0 351.3 L323.5 348.1 L324.1 349.7 L324.6 346.7 L325.2 337.7 L325.7 340.3 L326.3 350.3 L326.8 351.9 L327.4 350.9 L327.9 352.5 L328.5 348.8 L329.0 340.4 L329.5 343.7 L330.1 352.3 L330.6 353.5 L331.2 352.4 L331.7 353.1 L332.3 350.6 L332.8 342.0 L333.4 344.5 L333.9 353.2 L334.4 354.0 L335.0 352.6 L335.5 354.4 L336.1 351.8 L336.6 343.7 L337.2 347.7 L337.7 353.9 L338.3 356.0 L338.8 353.9 L339.3 354.5 L339.9 353.1 L340.4 344.2 L341.0 347.0 L341.5 355.3 L342.1 356.1 L342.6 354.5 L343.2 355.9 L343.7 353.5 L344.3 347.6 L344.8 349.8 L345.3 356.7 L345.9 358.0 L346.4 355.7 L347.0 357.0 L347.5 355.1 L348.1 346.7 L348.6 349.5 L349.2 356.9 L349.7 358.4 L350.2 356.1 L350.8 358.4 L351.3 355.7 L351.9 347.4 L352.4 351.0 L353.0 358.0 L353.5 358.9 L354.1 357.2 L354.6 359.2 L355.1 357.2 L355.7 349.9 L356.2 352.5 L356.8 358.0 L357.3 359.9 L357.9 359.2 L358.4 359.3 L359.0 357.0 L359.5 349.8 L360.1 352.5 L360.6 358.9 L361.1 360.4 L361.7 360.5 L362.2 359.9 L362.8 358.8 L363.3 353.6 L363.9 355.2 L364.4 361.2 L365.0 362.1 L365.5 360.3 L366.0 360.7 L366.6 358.6 L367.1 351.4 L367.7 353.9 L368.2 361.1 L368.8 362.8 L369.3 361.9 L369.9 362.5 L370.4 360.1 L370.9 353.9 L371.5 355.5 L372.0 362.0 L372.6 363.1 L373.1 362.2 L373.7 362.6 L374.2 360.5 L374.8 354.5 L375.3 356.5 L375.9 362.3 L376.4 362.8 L376.9 362.0 L377.5 362.1 L378.0 361.8 L378.6 356.0 L379.1 358.0 L379.7 361.8 L380.2 362.7 L380.8 361.6 L381.3 362.5 L381.8 361.2 L382.4 355.1 L382.9 356.2 L383.5 362.8 L384.0 362.8 L384.6 361.8 L385.1 362.9 L385.7 361.2 L386.2 354.6 L386.7 356.5 L387.3 361.5 L387.8 362.8 L388.4 362.1 L388.9 362.6 L389.5 360.2 L390.0 354.3 L390.6 355.6 L391.1 361.1 L391.7 362.9 L392.2 361.0 L392.7 362.4 L393.3 361.0 L393.8 354.6 L394.4 356.1 L394.9 361.2 L395.5 361.6 L396.0 361.3 L396.6 361.5 L397.1 360.0 L397.6 355.1 L398.2 356.1 L398.7 360.2 L399.3 361.9 L399.8 360.3 L400.4 361.5 L400.9 359.3 L401.5 354.5 L402.0 355.1 L402.5 361.0 L403.1 361.0 L403.6 360.2 L404.2 362.1 L404.7 361.0 L405.3 354.3 L405.8 356.9 L406.4 362.2 L406.9 362.3 L407.5 361.7 L408.0 361.9 L408.5 361.2 L409.1 353.9 L409.6 356.1 L410.2 361.6 L410.7 362.8 L411.3 361.3 L411.8 362.7 L412.4 361.1 L412.9 352.4 L413.4 354.1 L414.0 360.6 L414.5 363.2 L415.1 362.5 L415.6 361.8 L416.2 360.1 L416.7 353.8 L417.3 355.6 L417.8 362.2 L418.3 364.0 L418.9 362.7 L419.4 362.2 L420.0 361.3 L420.5 353.7 L421.1 356.1 L421.6 362.2 L422.2 364.3 L422.7 363.1 L423.3 363.3 L423.8 361.4 L424.3 351.0 L424.9 353.8 L425.4 362.0 L426.0 362.2 L426.5 362.5 L427.1 363.1 L427.6 360.7 L428.2 353.2 L428.7 354.8 L429.2 360.9 L429.8 364.1 L430.3 361.6 L430.9 362.9 L431.4 359.4 L432.0 352.9 L432.5 354.4 L433.1 360.7 L433.6 361.7 L434.1 362.8 L434.7 361.8 L435.2 361.1 L435.8 353.2 L436.3 355.7 L436.9 360.4 L437.4 363.3 L438.0 361.5 L438.5 361.5 L439.1 360.2 L439.6 353.5 L440.1 356.4 L440.7 364.4 L441.2 365.5 L441.8 365.1 L442.3 366.9 L442.9 364.7 L443.4 359.3 L444.0 361.6 L444.5 366.2 L445.0 367.9 L445.6 366.9 L446.1 367.1 L446.7 365.7 L447.2 361.6 L447.8 362.4 L448.3 368.2 L448.9 369.0 L449.4 368.3 L449.9 368.9 L450.5 367.1 L451.0 361.6 L451.6 363.2 L452.1 369.6 L452.7 370.4 L453.2 370.4 L453.8 370.4 L454.3 370.3 L454.9 364.3 L455.4 366.4 L455.9 371.3 L456.5 372.0 L457.0 371.5 L457.6 373.0 L458.1 372.3 L458.7 368.5 L459.2 369.1 L459.8 374.0 L460.3 374.3 L460.8 373.9 L461.4 375.0 L461.9 373.8 L462.5 371.0 L463.0 371.9 L463.6 375.8 L464.1 376.8 L464.7 375.5 L465.2 376.4 L465.7 375.6 L466.3 372.4 L466.8 373.4 L467.4 376.0 L467.9 377.0 L468.5 377.2 L469.0 376.7 L469.6 375.8 L470.1 372.8 L470.7 373.3 L471.2 376.9 L471.7 377.8 L472.3 377.8 L472.8 378.0 L473.4 376.4 L473.9 373.7 L474.5 375.0 L475.0 378.1 L475.6 378.0 L476.1 377.4 L476.6 378.2 L477.2 377.7 L477.7 374.8 L478.3 375.6 L478.8 377.8 L479.4 379.8 L479.9 378.0 L480.5 379.7 L481.0 378.2 L481.5 374.7 L482.1 375.2 L482.6 378.3 L483.2 379.1 L483.7 378.8 L484.3 378.9 L484.8 378.9 L485.4 375.3 L485.9 376.7 L486.5 379.3 L487.0 380.7 L487.5 380.2 L488.1 379.5 L488.6 378.8 L489.2 375.9 L489.7 377.3 L490.3 380.1 L490.8 380.8 L491.4 380.5 L491.9 380.6 L492.4 380.2 L493.0 375.8 L493.5 376.8 L494.1 380.1 L494.6 381.2 L495.2 380.9 L495.7 381.5 L496.3 380.0 L496.8 376.7 L497.3 377.7 L497.9 381.4 L498.4 381.3 L499.0 381.6 L499.5 381.6 L500.1 380.8 L500.6 377.4 L501.2 378.4 L501.7 381.4 L502.3 382.2 L502.8 381.5 L503.3 381.2 L503.9 380.8 L504.4 377.8 L505.0 378.6 L505.5 381.9 L506.1 381.5 L506.6 381.7 L507.2 382.2 L507.7 381.1 L508.2 377.8 L508.8 378.3 L509.3 382.1 L509.9 381.7 L510.4 381.8 L511.0 381.9 L511.5 381.1 L512.1 376.9 L512.6 378.9 L513.1 382.0 L513.7 382.5 L514.2 381.7 L514.8 382.5 L515.3 381.2 L515.9 379.1 L516.4 379.0 L517.0 382.4 L517.5 382.4 L518.1 381.5 L518.6 382.7 L519.1 381.2 L519.7 377.8 L520.2 378.6 L520.8 381.5 L521.3 382.9 L521.9 381.8 L522.4 381.2 L523.0 379.7 L523.5 374.8 L524.0 374.3 L524.6 376.6 L525.1 377.1 L525.7 376.7 L526.2 376.2 L526.8 376.3 L527.3 373.0 L527.9 373.6 L528.4 377.0 L528.9 377.3 L529.5 376.9 L530.0 376.5 L530.6 375.7 L531.1 372.8 L531.7 373.7 L532.2 376.7 L532.8 377.4 L533.3 376.1 L533.9 376.6 L534.4 375.8 L534.9 371.8 L535.5 373.5 L536.0 377.0 L536.6 377.0 L537.1 377.3 L537.7 376.8 L538.2 376.7 L538.8 373.9 L539.3 374.6 L539.8 376.7 L540.4 377.4 L540.9 376.8 L541.5 377.1 L542.0 376.7 L542.6 373.2 L543.1 374.0 L543.7 377.2 L544.2 377.6 L544.7 377.8 L545.3 377.5 L545.8 377.3 L546.4 374.5 L546.9 374.9 L547.5 377.7 L548.0 378.8 L548.6 378.2 L549.1 379.0 L549.7 378.2 L550.2 375.6 L550.7 376.0 L551.3 378.7 L551.8 379.3 L552.4 378.9 L552.9 379.4 L553.5 378.2 L554.0 374.8 L554.6 376.2 L555.1 379.2 L555.6 380.7 L556.2 381.8 L556.7 382.7 L557.3 383.5 L557.8 382.8 L558.4 384.0 L558.9 385.0 L559.5 385.2 L560.0 385.3 L560.5 385.2 L561.1 385.0 L561.6 383.6 L562.2 384.0 L562.7 385.2 L563.3 385.1 L563.8 384.8 L564.4 384.9 L564.9 384.9 L565.5 383.8 L566.0 383.9 L566.5 384.9 L567.1 385.2 L567.6 385.0 L568.2 385.1 L568.7 384.7 L569.3 383.3 L569.8 383.9 L570.4 384.8 L570.9 385.1 L571.4 384.7 L572.0 384.8 L572.5 384.4 L573.1 383.4 L573.6 383.6 L574.2 384.6 L574.7 385.0 L575.3 384.4 L575.8 384.5 L576.3 384.5 L576.9 382.9 L577.4 383.6 L578.0 384.6 L578.5 384.5 L579.1 384.7 L579.6 384.4 L580.2 384.4 L580.7 383.0 L581.3 383.4 L581.8 384.7 L582.3 384.7 L582.9 384.7 L583.4 384.7 L584.0 384.5 L584.5 383.1 L585.1 383.4 L585.6 384.9 L586.2 385.0 L586.7 384.9 L587.2 385.1 L587.8 384.8 L588.3 383.2 L588.9 383.8 L589.4 384.9 L590.0 385.3 L590.5 385.0 L591.1 385.2 L591.6 385.0 L592.1 384.2 L592.7 384.6 L593.2 385.7 L593.8 385.8 L594.3 385.9 L594.9 386.0 L595.4 386.2 L596.0 385.3 L596.5 385.7 L597.1 386.6 L597.6 387.1 L598.1 387.2 L598.7 387.2 L599.2 387.0 L599.8 386.1 L600.3 386.6 L600.9 387.8 L601.4 388.1 L602.0 388.1 L602.5 388.5 L603.0 388.3 L603.6 387.4 L604.1 387.8 L604.7 389.0 L605.2 389.2 L605.8 389.3 L606.3 389.6 L606.9 389.5 L607.4 388.5 L608.0 388.9 L608.5 390.1 L609.0 390.4 L609.6 390.4 L610.1 390.6 L610.7 390.4 L611.2 389.6 L611.8 389.7 L612.3 390.6 L612.9 390.7 L613.4 390.5 L613.9 390.5 L614.5 390.3 L615.0 389.2 L615.6 389.5 L616.1 390.4 L616.7 390.6 L617.2 390.4 L617.8 390.6 L618.3 390.3 L618.8 389.4 L619.4 389.7 L619.9 390.5 L620.5 390.6 L621.0 390.4 L621.6 390.6 L622.1 390.2 L622.7 389.6 L623.2 389.8 L623.8 390.5 L624.3 390.6 L624.8 390.3 L625.4 390.5 L625.9 390.2 L626.5 389.1 L627.0 389.4 L627.6 390.4 L628.1 390.5 L628.7 390.3 L629.2 390.4 L629.7 390.2 L630.3 389.0 L630.8 389.4 L631.4 390.4 L631.9 390.5 L632.5 390.4 L633.0 390.3 L633.6 390.3 L634.1 389.4 L634.6 389.6 L635.2 390.4 L635.7 390.4 L636.3 390.3 L636.8 390.4 L637.4 390.0 L637.9 389.0 L638.5 389.4 L639.0 390.3 L639.6 390.4 L640.1 390.2 L640.6 390.4 L641.2 390.2 L641.7 389.3 L642.3 389.7 L642.8 390.4 L643.4 390.6 L643.9 390.3 L644.5 390.6 L645.0 390.2 L645.5 389.2 L646.1 389.5 L646.6 390.5 L647.2 390.7 L647.7 390.5 L648.3 390.8 L648.8 390.4 L649.4 389.4 L649.9 389.8 L650.4 390.9 L651.0 391.0 L651.5 390.8 L652.1 391.0 L652.6 390.7 L653.2 389.8 L653.7 390.1 L654.3 391.1 L654.8 391.2 L655.4 391.0 L655.9 391.1 L656.4 390.9 L657.0 390.0 L657.5 390.3 L658.1 391.3 L658.6 391.5 L659.2 391.3 L659.7 391.4 L660.3 391.1 L660.8 390.2 L661.3 390.4 L661.9 391.4 L662.4 391.6 L663.0 391.6 L663.5 391.6 L664.1 391.5 L664.6 390.7 L665.2 390.9 L665.7 391.6 L666.2 391.9 L666.8 391.6 L667.3 391.9 L667.9 391.6 L668.4 390.6 L669.0 391.0 L669.5 391.8 L670.1 392.0 L670.6 391.7 L671.2 391.9 L671.7 391.6 L672.2 391.0 L672.8 391.2 L673.3 391.9 L673.9 392.0 L674.4 391.9 L675.0 392.0 L675.5 391.7 L676.1 390.8 L676.6 391.1 L677.1 392.0 L677.7 392.1 L678.2 391.9 L678.8 392.1 L679.3 391.8 L679.9 390.8 L680.4 391.2 L681.0 392.0 L681.5 392.1 L682.0 392.0 L682.6 392.3 L683.1 391.9 L683.7 390.9 L684.2 391.1 L684.8 392.1 L685.3 392.3 L685.9 392.0 L686.4 392.2 L687.0 392.0 L687.5 390.9 L688.0 391.2 L688.6 392.2 L689.1 392.4 L689.7 392.3 L690.2 392.4 L690.8 392.2 L691.3 391.3 L691.9 391.5 L692.4 392.4 L692.9 392.6 L693.5 392.2 L694.0 392.4 L694.6 392.2 L695.1 391.0 L695.7 391.5 L696.2 392.3 L696.8 392.6 L697.3 392.4 L697.8 392.5 L698.4 392.3 L698.9 391.4 L699.5 391.7 L700.0 392.6 L700.6 392.6 L701.1 392.5 L701.7 392.7 L702.2 392.3 L702.8 391.4 L703.3 391.8 L703.8 392.7 L704.4 392.8 L704.9 392.6 L705.5 392.7 L706.0 392.5 L706.6 391.6 L707.1 391.9 L707.7 392.6 L708.2 392.9 L708.7 392.6 L709.3 392.9 L709.8 392.6 L710.4 391.9 L710.9 392.1 L711.5 392.8 L712.0 392.9 L712.6 392.8 L713.1 392.8 L713.6 392.5 L714.2 391.5 L714.7 391.8 L715.3 392.6 L715.8 392.8 L716.4 392.6 L716.9 392.7 L717.5 392.5 L718.0 391.2 L718.6 391.7 L719.1 392.5 L719.6 392.7 L720.2 392.6 L720.7 392.7 L721.3 392.3 L721.8 391.4 L722.4 391.7 L722.9 392.6 L723.5 392.8 L724.0 392.6 L724.5 392.6 L725.1 392.4 L725.6 391.4 L726.2 391.7 L726.7 392.5 L727.3 392.6 L727.8 392.4 L728.4 392.5 L728.9 392.2 L729.4 391.3 L730.0 391.7 L730.5 392.4 L731.1 392.7 L731.6 392.5 L732.2 392.6 L732.7 392.3 L733.3 391.5 L733.8 391.7 L734.4 392.5 L734.9 392.6 L735.4 392.3 L736.0 392.5 L736.5 392.3 L737.1 391.1 L737.6 391.6 L738.2 392.4 L738.7 392.6 L739.3 392.4 L739.8 392.4 L740.3 392.2 L740.9 391.4 L741.4 391.6 L742.0 392.3 L742.5 392.4 L743.1 392.2 L743.6 392.5 L744.2 392.2 L744.7 391.2 L745.2 391.5 L745.8 392.3 L746.3 392.5 L746.9 392.2 L747.4 392.3 L748.0 392.1 L748.5 391.3 L749.1 391.6 L749.6 392.2 L750.2 392.4 L750.7 392.1 L751.2 392.3 L751.8 392.0 L752.3 391.0 L752.9 391.4 L753.4 392.0 L754.0 392.2 L754.5 392.0 L755.1 392.0 L755.6 391.7 L756.1 390.7 L756.7 391.0 L757.2 391.9 L757.8 391.9 L758.3 391.8 L758.9 391.9 L759.4 391.7 L760.0 390.8 L760.5 391.0 L761.0 391.6 L761.6 391.9 L762.1 391.6 L762.7 391.8 L763.2 391.4 L763.8 390.6 L764.3 390.8 L764.9 391.4 L765.4 391.6 L766.0 391.5 L766.5 391.4 L767.0 391.2 L767.6 390.2 L768.1 390.4 L768.7 391.2 L769.2 391.5 L769.8 391.2 L770.3 391.3 L770.9 390.9 L771.4 389.9 L771.9 390.2 L772.5 391.0 L773.0 391.2 L773.6 391.0 L774.1 391.0 L774.7 390.9 L775.2 390.1 L775.8 390.3 L776.3 390.9 L776.8 391.1 L777.4 390.8 L777.9 390.8 L778.5 390.6 L779.0 389.5 L779.6 389.7 L780.1 390.6 L780.7 390.7 L781.2 390.5 L781.8 390.8 L782.3 390.3 L782.8 389.2" stroke="#e37878"/>
<path d="M7.0 376.2 L7.5 377.5 L8.1 376.2 L8.6 371.0 L9.2 372.1 L9.7 377.1 L10.3 376.5 L10.8 375.0 L11.4 375.5 L11.9 374.9 L12.4 373.3 L13.0 372.6 L13.5 375.4 L14.1 375.1 L14.6 374.2 L15.2 374.5 L15.7 375.5 L16.3 373.1 L16.8 373.6 L17.4 374.1 L17.9 374.2 L18.4 373.3 L19.0 374.8 L19.5 374.0 L20.1 368.8 L20.6 370.6 L21.2 374.6 L21.7 373.8 L22.3 374.3 L22.8 375.0 L23.3 373.2 L23.9 370.9 L24.4 371.3 L25.0 374.2 L25.5 373.3 L26.1 373.6 L26.6 373.3 L27.2 372.2 L27.7 368.4 L28.2 371.4 L28.8 371.9 L29.3 372.3 L29.9 371.2 L30.4 372.4 L31.0 371.5 L31.5 366.2 L32.1 367.8 L32.6 371.0 L33.2 373.6 L33.7 372.8 L34.2 371.3 L34.8 370.5 L35.3 369.3 L35.9 369.4 L36.4 372.3 L37.0 372.5 L37.5 370.7 L38.1 372.5 L38.6 370.9 L39.1 366.0 L39.7 368.3 L40.2 371.0 L40.8 370.8 L41.3 370.2 L41.9 370.9 L42.4 369.9 L43.0 365.6 L43.5 367.5 L44.0 370.7 L44.6 371.0 L45.1 369.1 L45.7 369.7 L46.2 368.8 L46.8 366.4 L47.3 366.2 L47.9 370.1 L48.4 369.2 L49.0 368.3 L49.5 369.4 L50.0 367.6 L50.6 365.4 L51.1 365.8 L51.7 368.6 L52.2 370.1 L52.8 369.4 L53.3 368.3 L53.9 368.7 L54.4 365.1 L54.9 367.0 L55.5 368.7 L56.0 368.7 L56.6 368.1 L57.1 367.1 L57.7 367.7 L58.2 364.0 L58.8 364.8 L59.3 368.6 L59.8 369.0 L60.4 368.8 L60.9 367.1 L61.5 366.2 L62.0 364.9 L62.6 365.5 L63.1 367.4 L63.7 368.7 L64.2 367.6 L64.8 367.9 L65.3 367.3 L65.8 362.9 L66.4 364.5 L66.9 367.0 L67.5 369.1 L68.0 366.1 L68.6 367.3 L69.1 366.1 L69.7 361.7 L70.2 364.3 L70.7 367.5 L71.3 368.7 L71.8 367.6 L72.4 368.1 L72.9 365.7 L73.5 363.3 L74.0 365.9 L74.6 366.4 L75.1 367.2 L75.6 368.0 L76.2 367.4 L76.7 367.3 L77.3 364.6 L77.8 365.6 L78.4 368.0 L78.9 368.7 L79.5 367.1 L80.0 368.0 L80.6 367.0 L81.1 363.7 L81.6 364.7 L82.2 367.9 L82.7 369.2 L83.3 367.4 L83.8 369.7 L84.4 367.3 L84.9 364.5 L85.5 365.8 L86.0 369.3 L86.5 369.0 L87.1 367.5 L87.6 368.5 L88.2 368.3 L88.7 362.6 L89.3 364.9 L89.8 368.5 L90.4 370.0 L90.9 369.6 L91.4 369.4 L92.0 368.2 L92.5 366.5 L93.1 365.8 L93.6 369.1 L94.2 368.0 L94.7 366.7 L95.3 367.9 L95.8 367.0 L96.4 362.6 L96.9 364.0 L97.4 366.2 L98.0 366.4 L98.5 365.7 L99.1 365.5 L99.6 365.9 L100.2 361.7 L100.7 362.1 L101.3 365.1 L101.8 366.0 L102.3 365.7 L102.9 364.5 L103.4 364.1 L104.0 359.8 L104.5 361.7 L105.1 365.2 L105.6 364.9 L106.2 363.9 L106.7 364.7 L107.2 364.0 L107.8 359.6 L108.3 360.2 L108.9 364.9 L109.4 363.6 L110.0 362.8 L110.5 363.9 L111.1 362.2 L111.6 360.1 L112.2 362.2 L112.7 363.9 L113.2 363.4 L113.8 362.3 L114.3 364.2 L114.9 362.1 L115.4 358.3 L116.0 359.9 L116.5 363.8 L117.1 364.4 L117.6 362.5 L118.1 362.4 L118.7 361.9 L119.2 357.2 L119.8 357.7 L120.3 361.1 L120.9 363.3 L121.4 360.8 L122.0 361.6 L122.5 361.0 L123.0 355.5 L123.6 356.9 L124.1 362.2 L124.7 363.0 L125.2 362.2 L125.8 360.5 L126.3 359.7 L126.9 357.0 L127.4 359.3 L128.0 360.8 L128.5 361.0 L129.0 359.4 L129.6 360.7 L130.1 358.7 L130.7 354.8 L131.2 356.6 L131.8 359.6 L132.3 361.1 L132.9 359.7 L133.4 359.0 L133.9 358.5 L134.5 353.2 L135.0 355.1 L135.6 358.1 L136.1 359.5 L136.7 359.0 L137.2 359.1 L137.8 357.1 L138.3 352.2 L138.8 354.5 L139.4 358.0 L139.9 359.7 L140.5 358.4 L141.0 357.4 L141.6 356.5 L142.1 352.6 L142.7 355.6 L143.2 358.9 L143.8 359.2 L144.3 358.0 L144.8 358.4 L145.4 359.2 L145.9 354.7 L146.5 358.2 L147.0 359.0 L147.6 361.5 L148.1 360.7 L148.7 361.6 L149.2 360.5 L149.7 358.3 L150.3 359.2 L150.8 360.9 L151.4 361.6 L151.9 360.8 L152.5 361.8 L153.0 360.3 L153.6 358.5 L154.1 359.0 L154.6 362.2 L155.2 361.1 L155.7 361.2 L156.3 360.4 L156.8 359.3 L157.4 357.4 L157.9 359.4 L158.5 360.0 L159.0 360.5 L159.6 359.6 L160.1 359.6 L160.6 359.7 L161.2 354.7 L161.7 357.5 L162.3 358.8 L162.8 360.5 L163.4 357.9 L163.9 360.2 L164.5 358.4 L165.0 353.1 L165.5 354.7 L166.1 360.0 L166.6 359.8 L167.2 359.3 L167.7 359.9 L168.3 358.0 L168.8 356.1 L169.4 356.3 L169.9 359.9 L170.4 360.8 L171.0 361.3 L171.5 361.6 L172.1 361.5 L172.6 358.9 L173.2 359.4 L173.7 362.2 L174.3 362.5 L174.8 362.2 L175.4 361.9 L175.9 360.7 L176.4 356.2 L177.0 360.1 L177.5 362.7 L178.1 364.5 L178.6 364.0 L179.2 364.7 L179.7 362.4 L180.3 361.0 L180.8 361.4 L181.3 363.2 L181.9 364.4 L182.4 364.0 L183.0 365.5 L183.5 364.1 L184.1 360.2 L184.6 363.1 L185.2 365.8 L185.7 366.0 L186.2 364.8 L186.8 364.6 L187.3 363.9 L187.9 360.8 L188.4 361.8 L189.0 364.2 L189.5 364.1 L190.1 362.8 L190.6 363.9 L191.2 361.9 L191.7 357.4 L192.2 359.6 L192.8 362.1 L193.3 363.8 L193.9 363.5 L194.4 363.7 L195.0 361.6 L195.5 358.7 L196.1 361.0 L196.6 362.4 L197.1 363.1 L197.7 362.5 L198.2 363.1 L198.8 360.5 L199.3 357.4 L199.9 358.6 L200.4 361.0 L201.0 362.4 L201.5 361.6 L202.0 360.6 L202.6 359.4 L203.1 356.3 L203.7 355.9 L204.2 359.6 L204.8 360.0 L205.3 359.5 L205.9 360.8 L206.4 357.6 L207.0 355.6 L207.5 357.0 L208.0 359.6 L208.6 359.5 L209.1 359.6 L209.7 358.4 L210.2 358.2 L210.8 355.0 L211.3 355.8 L211.9 358.0 L212.4 359.1 L212.9 357.9 L213.5 358.0 L214.0 356.0 L214.6 355.1 L215.1 355.5 L215.7 357.3 L216.2 356.8 L216.8 355.9 L217.3 357.3 L217.9 356.6 L218.4 353.3 L218.9 354.4 L219.5 356.7 L220.0 356.8 L220.6 356.2 L221.1 357.7 L221.7 355.4 L222.2 351.8 L222.8 354.0 L223.3 355.1 L223.8 354.6 L224.4 353.7 L224.9 352.4 L225.5 349.2 L226.0 344.4 L226.6 346.9 L227.1 348.1 L227.7 351.0 L228.2 348.8 L228.7 348.1 L229.3 347.1 L229.8 344.9 L230.4 346.7 L230.9 348.8 L231.5 348.8 L232.0 347.5 L232.6 347.5 L233.1 346.5 L233.7 343.5 L234.2 344.8 L234.7 347.0 L235.3 348.9 L235.8 346.2 L236.4 348.1 L236.9 345.1 L237.5 340.9 L238.0 342.9 L238.6 344.8 L239.1 346.9 L239.6 345.1 L240.2 346.8 L240.7 343.9 L241.3 339.1 L241.8 341.1 L242.4 345.2 L242.9 346.7 L243.5 344.0 L244.0 345.1 L244.5 343.5 L245.1 339.7 L245.6 341.6 L246.2 345.0 L246.7 344.3 L247.3 344.1 L247.8 346.1 L248.4 343.8 L248.9 338.6 L249.5 341.0 L250.0 345.3 L250.5 345.0 L251.1 343.4 L251.6 345.1 L252.2 342.0 L252.7 338.5 L253.3 342.0 L253.8 345.6 L254.4 346.1 L254.9 343.1 L255.4 345.7 L256.0 344.3 L256.5 336.9 L257.1 339.6 L257.6 343.7 L258.2 347.7 L258.7 346.3 L259.3 345.3 L259.8 343.4 L260.3 338.6 L260.9 342.4 L261.4 347.4 L262.0 348.5 L262.5 347.3 L263.1 348.0 L263.6 344.6 L264.2 341.3 L264.7 343.0 L265.3 347.1 L265.8 349.6 L266.3 346.8 L266.9 348.2 L267.4 346.0 L268.0 340.3 L268.5 343.5 L269.1 347.4 L269.6 348.6 L270.2 346.0 L270.7 349.0 L271.2 345.8 L271.8 340.5 L272.3 342.7 L272.9 345.7 L273.4 348.2 L274.0 345.2 L274.5 347.1 L275.1 344.4 L275.6 339.6 L276.1 342.9 L276.7 346.6 L277.2 346.0 L277.8 345.7 L278.3 344.4 L278.9 342.9 L279.4 341.8 L280.0 343.0 L280.5 345.1 L281.1 346.8 L281.6 345.8 L282.1 345.4 L282.7 344.2 L283.2 341.4 L283.8 343.9 L284.3 347.8 L284.9 349.4 L285.4 347.5 L286.0 348.6 L286.5 346.4 L287.0 344.4 L287.6 345.8 L288.1 348.0 L288.7 349.7 L289.2 349.4 L289.8 349.0 L290.3 348.4 L290.9 342.7 L291.4 346.0 L291.9 350.4 L292.5 351.4 L293.0 350.6 L293.6 351.0 L294.1 347.8 L294.7 343.8 L295.2 346.0 L295.8 349.5 L296.3 349.8 L296.9 347.8 L297.4 348.8 L297.9 345.3 L298.5 338.7 L299.0 342.2 L299.6 342.6 L300.1 343.2 L300.7 341.1 L301.2 341.0 L301.8 338.5 L302.3 334.4 L302.8 335.9 L303.4 339.5 L303.9 339.5 L304.5 339.9 L305.0 340.2 L305.6 336.8 L306.1 335.9 L306.7 336.7 L307.2 337.2 L307.7 339.1 L308.3 336.9 L308.8 336.7 L309.4 336.3 L309.9 330.0 L310.5 330.9 L311.0 337.6 L311.6 336.3 L312.1 336.3 L312.7 336.3 L313.2 336.9 L313.7 333.1 L314.3 334.0 L314.8 335.4 L315.4 337.8 L315.9 336.6 L316.5 336.0 L317.0 334.6 L317.6 330.2 L318.1 332.0 L318.6 336.1 L319.2 337.4 L319.7 336.3 L320.3 338.3 L320.8 334.4 L321.4 330.6 L321.9 333.8 L322.5 336.3 L323.0 339.4 L323.5 336.4 L324.1 338.0 L324.6 337.4 L325.2 331.1 L325.7 334.7 L326.3 336.2 L326.8 338.7 L327.4 336.7 L327.9 338.9 L328.5 337.1 L329.0 332.3 L329.5 335.0 L330.1 336.2 L330.6 337.2 L331.2 335.6 L331.7 335.2 L332.3 334.5 L332.8 329.4 L333.4 331.6 L333.9 336.0 L334.4 334.9 L335.0 335.7 L335.5 333.7 L336.1 334.8 L336.6 328.9 L337.2 331.7 L337.7 334.3 L338.3 335.0 L338.8 334.3 L339.3 334.1 L339.9 332.9 L340.4 328.3 L341.0 328.8 L341.5 333.8 L342.1 334.5 L342.6 334.1 L343.2 335.2 L343.7 335.6 L344.3 331.5 L344.8 334.1 L345.3 336.2 L345.9 337.9 L346.4 337.7 L347.0 338.9 L347.5 337.4 L348.1 331.4 L348.6 334.7 L349.2 336.0 L349.7 338.9 L350.2 336.3 L350.8 336.5 L351.3 335.0 L351.9 331.0 L352.4 333.3 L353.0 336.5 L353.5 336.7 L354.1 333.6 L354.6 334.4 L355.1 333.2 L355.7 330.7 L356.2 331.6 L356.8 334.0 L357.3 334.7 L357.9 335.1 L358.4 335.3 L359.0 334.8 L359.5 331.3 L360.1 332.8 L360.6 335.4 L361.1 336.8 L361.7 337.1 L362.2 338.3 L362.8 336.0 L363.3 334.6 L363.9 334.8 L364.4 338.5 L365.0 339.2 L365.5 336.6 L366.0 338.9 L366.6 336.0 L367.1 331.7 L367.7 335.3 L368.2 338.7 L368.8 338.7 L369.3 338.8 L369.9 338.7 L370.4 337.8 L370.9 335.4 L371.5 335.8 L372.0 340.6 L372.6 343.1 L373.1 340.0 L373.7 341.9 L374.2 341.5 L374.8 336.8 L375.3 338.3 L375.9 342.3 L376.4 343.9 L376.9 341.2 L377.5 342.0 L378.0 340.8 L378.6 334.9 L379.1 339.6 L379.7 343.8 L380.2 343.8 L380.8 342.7 L381.3 342.6 L381.8 341.7 L382.4 336.0 L382.9 337.7 L383.5 344.5 L384.0 343.3 L384.6 344.1 L385.1 344.1 L385.7 342.1 L386.2 339.3 L386.7 342.9 L387.3 342.8 L387.8 345.4 L388.4 343.9 L388.9 345.5 L389.5 343.5 L390.0 340.0 L390.6 342.3 L391.1 343.8 L391.7 344.0 L392.2 342.2 L392.7 342.4 L393.3 339.9 L393.8 335.0 L394.4 336.8 L394.9 338.0 L395.5 339.1 L396.0 337.6 L396.6 336.6 L397.1 335.8 L397.6 330.1 L398.2 332.2 L398.7 334.2 L399.3 332.7 L399.8 330.9 L400.4 328.8 L400.9 327.1 L401.5 325.4 L402.0 328.0 L402.5 329.8 L403.1 329.2 L403.6 330.1 L404.2 328.5 L404.7 328.5 L405.3 325.7 L405.8 323.3 L406.4 329.1 L406.9 331.4 L407.5 325.2 L408.0 327.1 L408.5 324.9 L409.1 323.1 L409.6 321.8 L410.2 327.1 L410.7 328.3 L411.3 325.3 L411.8 327.6 L412.4 325.5 L412.9 318.5 L413.4 318.6 L414.0 326.9 L414.5 325.8 L415.1 323.1 L415.6 325.5 L416.2 322.0 L416.7 316.0 L417.3 315.3 L417.8 322.7 L418.3 323.6 L418.9 324.4 L419.4 321.8 L420.0 321.9 L420.5 315.3 L421.1 315.8 L421.6 321.6 L422.2 322.0 L422.7 321.5 L423.3 321.6 L423.8 320.0 L424.3 313.1 L424.9 311.4 L425.4 321.3 L426.0 318.7 L426.5 317.7 L427.1 316.9 L427.6 318.5 L428.2 310.2 L428.7 313.9 L429.2 315.7 L429.8 316.7 L430.3 314.5 L430.9 315.0 L431.4 316.1 L432.0 311.5 L432.5 316.2 L433.1 314.0 L433.6 315.3 L434.1 317.0 L434.7 316.3 L435.2 316.8 L435.8 305.8 L436.3 307.8 L436.9 313.7 L437.4 314.8 L438.0 312.6 L438.5 314.2 L439.1 310.6 L439.6 306.6 L440.1 312.9 L440.7 312.0 L441.2 316.2 L441.8 313.8 L442.3 315.2 L442.9 312.0 L443.4 308.5 L444.0 312.0 L444.5 315.8 L445.0 316.6 L445.6 310.2 L446.1 311.6 L446.7 312.3 L447.2 301.2 L447.8 305.4 L448.3 308.4 L448.9 311.3 L449.4 309.8 L449.9 311.0 L450.5 308.8 L451.0 300.2 L451.6 302.9 L452.1 310.7 L452.7 310.2 L453.2 304.7 L453.8 307.6 L454.3 302.2 L454.9 299.2 L455.4 298.9 L455.9 305.4 L456.5 308.8 L457.0 305.0 L457.6 309.1 L458.1 308.3 L458.7 304.0 L459.2 302.5 L459.8 308.8 L460.3 315.2 L460.8 314.3 L461.4 316.2 L461.9 312.1 L462.5 306.0 L463.0 311.0 L463.6 316.9 L464.1 317.7 L464.7 315.2 L465.2 315.9 L465.7 314.2 L466.3 309.2 L466.8 312.1 L467.4 313.9 L467.9 315.8 L468.5 315.2 L469.0 315.0 L469.6 312.2 L470.1 304.8 L470.7 311.6 L471.2 314.8 L471.7 319.0 L472.3 312.6 L472.8 316.9 L473.4 313.6 L473.9 308.9 L474.5 313.2 L475.0 315.5 L475.6 313.6 L476.1 315.0 L476.6 317.2 L477.2 313.5 L477.7 305.9 L478.3 309.4 L478.8 315.8 L479.4 316.9 L479.9 311.5 L480.5 316.2 L481.0 310.2 L481.5 310.3 L482.1 312.6 L482.6 316.7 L483.2 316.8 L483.7 316.3 L484.3 314.6 L484.8 313.9 L485.4 307.5 L485.9 313.6 L486.5 314.5 L487.0 319.1 L487.5 316.0 L488.1 318.6 L488.6 310.7 L489.2 304.1 L489.7 307.6 L490.3 310.1 L490.8 314.5 L491.4 311.8 L491.9 314.3 L492.4 310.6 L493.0 300.0 L493.5 303.4 L494.1 310.2 L494.6 307.7 L495.2 310.1 L495.7 309.0 L496.3 301.7 L496.8 295.4 L497.3 300.7 L497.9 304.3 L498.4 303.0 L499.0 298.4 L499.5 298.4 L500.1 297.9 L500.6 294.0 L501.2 292.7 L501.7 296.4 L502.3 297.1 L502.8 297.4 L503.3 299.2 L503.9 297.0 L504.4 293.3 L505.0 294.0 L505.5 297.8 L506.1 300.4 L506.6 298.7 L507.2 297.1 L507.7 298.7 L508.2 288.3 L508.8 295.3 L509.3 298.6 L509.9 301.8 L510.4 296.5 L511.0 298.8 L511.5 297.0 L512.1 288.6 L512.6 293.6 L513.1 299.2 L513.7 297.7 L514.2 293.2 L514.8 298.4 L515.3 292.2 L515.9 288.5 L516.4 290.0 L517.0 292.6 L517.5 292.7 L518.1 292.4 L518.6 296.2 L519.1 294.7 L519.7 288.6 L520.2 286.6 L520.8 294.5 L521.3 293.3 L521.9 291.8 L522.4 288.7 L523.0 287.6 L523.5 283.1 L524.0 287.7 L524.6 290.4 L525.1 291.8 L525.7 288.0 L526.2 285.5 L526.8 284.1 L527.3 281.5 L527.9 278.6 L528.4 282.8 L528.9 283.5 L529.5 282.5 L530.0 283.7 L530.6 282.1 L531.1 272.7 L531.7 280.1 L532.2 282.3 L532.8 286.6 L533.3 282.3 L533.9 281.7 L534.4 282.1 L534.9 273.6 L535.5 275.8 L536.0 279.7 L536.6 281.2 L537.1 278.5 L537.7 283.3 L538.2 278.0 L538.8 275.6 L539.3 274.6 L539.8 277.7 L540.4 277.5 L540.9 278.7 L541.5 279.3 L542.0 273.3 L542.6 268.5 L543.1 268.6 L543.7 273.9 L544.2 275.1 L544.7 274.9 L545.3 278.4 L545.8 272.8 L546.4 272.5 L546.9 269.4 L547.5 273.5 L548.0 272.6 L548.6 270.5 L549.1 270.1 L549.7 272.4 L550.2 263.0 L550.7 268.3 L551.3 270.8 L551.8 271.0 L552.4 272.2 L552.9 271.3 L553.5 269.6 L554.0 260.5 L554.6 265.7 L555.1 268.6 L555.6 266.1 L556.2 267.2 L556.7 264.5 L557.3 262.9 L557.8 257.7 L558.4 261.3 L558.9 263.0 L559.5 262.7 L560.0 263.5 L560.5 265.0 L561.1 267.6 L561.6 261.1 L562.2 265.4 L562.7 271.6 L563.3 271.7 L563.8 270.1 L564.4 270.4 L564.9 269.0 L565.5 262.6 L566.0 266.7 L566.5 269.7 L567.1 275.3 L567.6 271.6 L568.2 272.9 L568.7 271.1 L569.3 270.1 L569.8 270.8 L570.4 271.4 L570.9 276.6 L571.4 274.8 L572.0 271.6 L572.5 269.1 L573.1 269.6 L573.6 272.2 L574.2 275.4 L574.7 274.3 L575.3 275.0 L575.8 277.1 L576.3 275.3 L576.9 267.2 L577.4 272.8 L578.0 273.8 L578.5 275.7 L579.1 278.5 L579.6 279.3 L580.2 276.8 L580.7 271.5 L581.3 275.9 L581.8 278.1 L582.3 280.4 L582.9 279.1 L583.4 278.1 L584.0 276.0 L584.5 274.3 L585.1 274.2 L585.6 279.2 L586.2 281.4 L586.7 276.6 L587.2 282.1 L587.8 278.3 L588.3 274.3 L588.9 274.1 L589.4 274.6 L590.0 274.9 L590.5 276.7 L591.1 272.7 L591.6 268.2 L592.1 262.2 L592.7 264.6 L593.2 268.2 L593.8 269.4 L594.3 262.9 L594.9 261.1 L595.4 260.6 L596.0 252.9 L596.5 256.1 L597.1 257.3 L597.6 259.3 L598.1 259.9 L598.7 257.0 L599.2 253.2 L599.8 246.8 L600.3 247.1" stroke="#0d9840" stroke-width="1.25"/>
<path d="M600.3 247.1 L600.9 254.4 L601.4 256.1 L602.0 256.6 L602.5 257.6 L603.0 252.4 L603.6 241.3 L604.1 242.2 L604.7 258.7 L605.2 256.0 L605.8 260.6 L606.3 258.5 L606.9 256.3 L607.4 241.5 L608.0 242.5 L608.5 257.4 L609.0 259.5 L609.6 258.9 L610.1 255.4 L610.7 254.0 L611.2 243.1 L611.8 242.2 L612.3 256.3 L612.9 257.7 L613.4 258.2 L613.9 252.4 L614.5 252.5 L615.0 235.0 L615.6 239.3 L616.1 249.7 L616.7 254.1 L617.2 253.6 L617.8 256.4 L618.3 251.3 L618.8 241.7 L619.4 246.1 L619.9 255.5 L620.5 255.3 L621.0 254.0 L621.6 255.5 L622.1 246.9 L622.7 239.9 L623.2 243.4 L623.8 252.4 L624.3 255.2 L624.8 252.8 L625.4 253.9 L625.9 250.3 L626.5 238.6 L627.0 241.4 L627.6 252.4 L628.1 253.4 L628.7 256.0 L629.2 252.2 L629.7 252.5 L630.3 240.2 L630.8 243.8 L631.4 251.7 L631.9 251.9 L632.5 253.9 L633.0 244.9 L633.6 246.2 L634.1 223.3 L634.6 227.7 L635.2 247.3 L635.7 247.3 L636.3 249.4 L636.8 248.1 L637.4 240.7 L637.9 229.2 L638.5 234.8 L639.0 243.0 L639.6 244.7 L640.1 243.3 L640.6 242.7 L641.2 238.8 L641.7 225.9 L642.3 229.1 L642.8 238.4 L643.4 240.8 L643.9 239.5 L644.5 239.8 L645.0 234.2 L645.5 223.1 L646.1 222.3 L646.6 231.9 L647.2 234.0 L647.7 234.7 L648.3 235.4 L648.8 226.7 L649.4 209.1 L649.9 212.7 L650.4 230.9 L651.0 229.7 L651.5 232.7 L652.1 226.8 L652.6 221.8 L653.2 206.8 L653.7 211.1 L654.3 226.5 L654.8 230.3 L655.4 228.9 L655.9 225.7 L656.4 225.0 L657.0 213.3 L657.5 218.8 L658.1 230.9 L658.6 233.6 L659.2 234.5 L659.7 232.1 L660.3 228.3 L660.8 221.1 L661.3 221.6 L661.9 230.4 L662.4 233.8 L663.0 237.3 L663.5 233.1 L664.1 233.7 L664.6 221.8 L665.2 224.7 L665.7 232.7 L666.2 236.9 L666.8 233.9 L667.3 234.8 L667.9 229.0 L668.4 211.7 L669.0 216.6 L669.5 228.7 L670.1 232.5 L670.6 226.4 L671.2 226.5 L671.7 216.8 L672.2 199.0 L672.8 201.9 L673.3 219.8 L673.9 220.8 L674.4 228.1 L675.0 222.9 L675.5 214.2 L676.1 190.8 L676.6 194.9 L677.1 220.7 L677.7 218.2 L678.2 218.3 L678.8 218.9 L679.3 211.5 L679.9 188.4 L680.4 195.8 L681.0 208.9 L681.5 214.3 L682.0 218.5 L682.6 219.8 L683.1 210.9 L683.7 193.7 L684.2 192.8 L684.8 208.5 L685.3 216.6 L685.9 212.4 L686.4 210.0 L687.0 205.4 L687.5 185.4 L688.0 186.9 L688.6 207.5 L689.1 213.3 L689.7 213.5 L690.2 211.4 L690.8 204.9 L691.3 179.8 L691.9 182.4 L692.4 205.8 L692.9 212.3 L693.5 206.2 L694.0 203.9 L694.6 198.9 L695.1 170.4 L695.7 185.7 L696.2 197.0 L696.8 207.1 L697.3 208.6 L697.8 203.4 L698.4 199.9 L698.9 181.4 L699.5 183.1 L700.0 204.2 L700.6 200.1 L701.1 207.2 L701.7 205.7 L702.2 192.0 L702.8 169.8 L703.3 179.7 L703.8 203.3 L704.4 201.9 L704.9 201.6 L705.5 191.9 L706.0 186.8 L706.6 162.2 L707.1 166.2 L707.7 182.1 L708.2 197.2 L708.7 188.9 L709.3 194.0 L709.8 182.0 L710.4 161.0 L710.9 162.5 L711.5 189.9 L712.0 191.2 L712.6 196.2 L713.1 188.7 L713.6 175.8 L714.2 149.5 L714.7 156.7 L715.3 175.5 L715.8 180.2 L716.4 187.5 L716.9 180.3 L717.5 177.4 L718.0 142.0 L718.6 154.3 L719.1 169.1 L719.6 173.1 L720.2 179.6 L720.7 172.4 L721.3 163.8 L721.8 147.9 L722.4 150.7 L722.9 167.4 L723.5 175.8 L724.0 174.5 L724.5 168.4 L725.1 163.2 L725.6 135.7 L726.2 144.0 L726.7 160.4 L727.3 166.6 L727.8 167.8 L728.4 162.6 L728.9 156.5 L729.4 132.1 L730.0 144.1 L730.5 156.6 L731.1 170.2 L731.6 169.2 L732.2 169.1 L732.7 156.7 L733.3 133.7 L733.8 134.7 L734.4 157.2 L734.9 164.2 L735.4 160.3 L736.0 158.1 L736.5 154.4 L737.1 116.1 L737.6 132.4 L738.2 150.9 L738.7 156.4 L739.3 161.8 L739.8 150.8 L740.3 143.5 L740.9 129.1 L741.4 131.5 L742.0 143.5 L742.5 145.1 L743.1 144.7 L743.6 146.6 L744.2 137.7 L744.7 111.9 L745.2 115.2 L745.8 133.0 L746.3 138.4 L746.9 130.5 L747.4 127.4 L748.0 123.0 L748.5 101.6 L749.1 107.6 L749.6 117.9 L750.2 120.6 L750.7 119.5 L751.2 117.3 L751.8 113.4 L752.3 84.6 L752.9 97.1 L753.4 107.7 L754.0 116.7 L754.5 117.3 L755.1 105.7 L755.6 100.5 L756.1 70.3 L756.7 83.6 L757.2 107.3 L757.8 108.0 L758.3 111.6 L758.9 111.5 L759.4 106.9 L760.0 81.6 L760.5 87.4 L761.0 99.8 L761.6 113.2 L762.1 107.4 L762.7 107.7 L763.2 92.5 L763.8 71.1 L764.3 73.7 L764.9 91.6 L765.4 101.2 L766.0 108.4 L766.5 94.3 L767.0 87.6 L767.6 63.3 L768.1 68.9 L768.7 90.8 L769.2 107.8 L769.8 112.1 L770.3 102.7 L770.9 92.1 L771.4 67.3 L771.9 77.2 L772.5 101.8 L773.0 110.0 L773.6 109.8 L774.1 104.7 L774.7 107.1 L775.2 79.2 L775.8 85.8 L776.3 104.1 L776.8 114.3 L777.4 112.6 L777.9 105.4 L778.5 102.7 L779.0 66.8 L779.6 71.5 L780.1 99.7 L780.7 104.3 L781.2 106.4 L781.8 112.0 L782.3 93.2 L782.8 66.6" stroke="#0f9942" stroke-width="1.05"/>
</g>
<path d="M20.0 465.8 C21.3 464.5 21.3 463.4 24.0 462.0 C26.7 460.6 25.0 461.2 28.0 461.6 C31.0 462.0 29.0 462.2 33.0 463.2 C37.0 464.2 36.0 463.9 40.0 464.6 C44.0 465.3 41.7 465.5 45.0 465.3 C48.3 465.1 46.0 465.3 50.0 464.0 C54.0 462.7 53.7 461.7 57.0 461.4 C60.3 461.1 58.0 461.8 60.0 463.0 C62.0 464.2 61.0 464.7 63.0 465.0 C65.0 465.3 63.7 464.8 66.0 464.0 C68.3 463.2 66.7 463.2 70.0 462.5 C73.3 461.8 72.7 462.7 76.0 462.0 C79.3 461.3 77.3 461.5 80.0 460.5 C82.7 459.5 82.0 459.6 84.0 459.0 C86.0 458.4 84.3 458.2 86.0 458.7 C87.7 459.2 86.7 459.4 89.0 460.5 C91.3 461.6 89.7 461.4 93.0 462.0 C96.3 462.6 95.0 462.3 99.0 462.3 C103.0 462.3 101.7 462.6 105.0 462.0 C108.3 461.4 106.3 461.8 109.0 460.5 C111.7 459.2 111.0 459.0 113.0 458.0 C115.0 457.0 113.3 457.4 115.0 457.6 C116.7 457.8 115.7 457.0 118.0 458.5 C120.3 460.0 118.7 461.0 122.0 462.0 C125.3 463.0 124.3 462.0 128.0 461.6 C131.7 461.2 130.0 461.1 133.0 460.8 C136.0 460.5 134.3 461.5 137.0 460.7 C139.7 459.9 138.7 459.8 141.0 458.5 C143.3 457.2 142.3 457.4 144.0 456.9 C145.7 456.4 144.3 456.2 146.0 456.9 C147.7 457.6 147.0 457.6 149.0 459.0 C151.0 460.4 149.0 460.3 152.0 461.2 C155.0 462.1 153.7 461.5 158.0 461.6 C162.3 461.7 161.3 461.9 165.0 461.4 C168.7 460.9 166.3 460.9 169.0 460.0 C171.7 459.1 170.7 458.9 173.0 458.7 C175.3 458.5 173.7 458.5 176.0 459.3 C178.3 460.1 177.7 460.1 180.0 461.0 C182.3 461.9 179.7 461.8 183.0 462.0 C186.3 462.2 186.0 461.9 190.0 461.5 C194.0 461.1 191.7 461.2 195.0 460.8 C198.3 460.4 196.7 460.9 200.0 460.2 C203.3 459.5 201.7 458.5 205.0 458.7 C208.3 458.9 207.0 460.1 210.0 460.7 C213.0 461.3 211.3 460.6 214.0 460.4 C216.7 460.2 215.0 459.7 218.0 460.0 C221.0 460.3 220.3 461.4 223.0 461.4 C225.7 461.4 223.7 461.8 226.0 460.0 C228.3 458.2 227.3 458.1 230.0 456.0 C232.7 453.9 231.7 454.1 234.0 453.8 C236.3 453.5 235.0 454.1 237.0 455.0 C239.0 455.9 236.7 456.0 240.0 456.4 C243.3 456.8 242.3 456.3 247.0 456.2 C251.7 456.1 250.3 456.6 254.0 456.0 C257.7 455.4 255.7 455.5 258.0 454.5 C260.3 453.5 259.3 453.6 261.0 453.0 C262.7 452.4 261.3 452.3 263.0 452.6 C264.7 452.9 263.7 452.6 266.0 454.0 C268.3 455.4 266.3 455.8 270.0 456.9 C273.7 458.0 272.0 457.1 277.0 457.3 C282.0 457.5 281.0 458.0 285.0 457.6 C289.0 457.2 286.3 457.1 289.0 456.0 C291.7 454.9 290.3 454.5 293.0 454.3 C295.7 454.1 294.0 454.5 297.0 455.5 C300.0 456.5 298.7 457.1 302.0 457.4 C305.3 457.7 303.7 456.3 307.0 456.4 C310.3 456.5 309.0 457.6 312.0 457.6 C315.0 457.6 313.7 457.2 316.0 456.5 C318.3 455.8 316.7 455.6 319.0 455.6 C321.3 455.6 320.0 455.7 323.0 456.5 C326.0 457.3 324.0 457.6 328.0 458.1 C332.0 458.6 331.3 457.9 335.0 458.1 C338.7 458.3 336.3 458.4 339.0 458.8 C341.7 459.2 340.0 459.5 343.0 459.4 C346.0 459.3 345.0 459.1 348.0 458.4 C351.0 457.7 349.3 457.5 352.0 457.4 C354.7 457.3 353.3 457.5 356.0 458.2 C358.7 458.9 356.0 458.9 360.0 459.4 C364.0 459.9 363.0 459.5 368.0 459.8 C373.0 460.1 370.3 460.3 375.0 460.2 C379.7 460.1 378.0 459.3 382.0 459.4 C386.0 459.5 383.7 459.8 387.0 460.4 C390.3 461.0 389.0 461.3 392.0 461.2 C395.0 461.1 392.3 461.0 396.0 460.2 C399.7 459.4 399.3 459.8 403.0 458.7 C406.7 457.6 404.3 458.0 407.0 457.0 C409.7 456.0 408.0 455.4 411.0 455.6 C414.0 455.8 412.7 456.9 416.0 457.6 C419.3 458.3 417.7 458.0 421.0 457.6 C424.3 457.2 422.3 456.6 426.0 456.4 C429.7 456.2 429.0 457.2 432.0 456.9 C435.0 456.6 433.0 456.4 435.0 455.5 C437.0 454.6 436.0 454.7 438.0 454.3 C440.0 453.9 439.3 453.8 441.0 454.3 C442.7 454.8 441.3 454.7 443.0 455.8 C444.7 456.9 443.7 457.4 446.0 457.6 C448.3 457.8 447.3 457.2 450.0 456.5 C452.7 455.8 451.3 455.4 454.0 455.6 C456.7 455.8 455.0 455.9 458.0 457.0 C461.0 458.1 460.3 458.6 463.0 458.9 C465.7 459.2 464.0 458.7 466.0 458.0 C468.0 457.3 467.0 456.9 469.0 456.9 C471.0 456.9 469.7 457.3 472.0 458.0 C474.3 458.7 472.3 458.7 476.0 458.9 C479.7 459.1 478.3 458.9 483.0 458.6 C487.7 458.3 486.0 458.8 490.0 458.1 C494.0 457.4 492.0 457.5 495.0 456.5 C498.0 455.5 496.7 455.3 499.0 455.1 C501.3 454.9 499.7 455.4 502.0 456.0 C504.3 456.6 502.7 457.0 506.0 456.9 C509.3 456.8 508.0 456.0 512.0 455.6 C516.0 455.2 514.3 456.0 518.0 455.6 C521.7 455.2 519.7 455.2 523.0 454.5 C526.3 453.8 524.7 453.9 528.0 453.6 C531.3 453.3 529.7 453.4 533.0 453.5 C536.3 453.6 535.0 454.1 538.0 453.8 C541.0 453.5 539.7 453.3 542.0 452.6 C544.3 451.9 542.3 452.2 545.0 451.8 C547.7 451.4 546.7 451.7 550.0 451.5 C553.3 451.3 551.7 450.9 555.0 451.3 C558.3 451.7 556.7 451.8 560.0 452.8 C563.3 453.8 561.0 453.8 565.0 454.3 C569.0 454.8 567.0 454.4 572.0 454.4 C577.0 454.4 576.0 454.8 580.0 454.3 C584.0 453.8 581.3 454.2 584.0 453.0 C586.7 451.8 585.0 451.5 588.0 450.8 C591.0 450.1 589.7 450.8 593.0 451.0 C596.3 451.2 595.0 451.0 598.0 451.3 C601.0 451.6 599.3 451.6 602.0 451.9 C604.7 452.2 603.3 452.4 606.0 452.3 C608.7 452.2 607.7 452.1 610.0 451.7 C612.3 451.3 611.0 451.6 613.0 451.0 C615.0 450.4 614.0 450.6 616.0 450.0 C618.0 449.4 616.7 449.1 619.0 449.3 C621.3 449.5 621.0 450.6 623.0 450.5 C625.0 450.4 623.7 450.0 625.0 449.0 C626.3 448.0 625.3 447.6 627.0 447.5 C628.7 447.4 628.0 448.0 630.0 448.8 C632.0 449.6 630.3 449.6 633.0 450.0 C635.7 450.4 635.3 450.7 638.0 450.0 C640.7 449.3 638.7 449.5 641.0 448.0 C643.3 446.5 642.3 446.5 645.0 445.5 C647.7 444.5 646.7 444.7 649.0 445.0 C651.3 445.3 650.0 445.3 652.0 446.3 C654.0 447.3 652.0 447.4 655.0 448.0 C658.0 448.6 657.7 448.1 661.0 448.0 C664.3 447.9 662.7 447.9 665.0 447.6 C667.3 447.3 665.7 447.9 668.0 447.0 C670.3 446.1 669.3 446.4 672.0 444.8 C674.7 443.2 674.0 443.1 676.0 442.2 C678.0 441.3 676.7 441.7 678.0 442.2 C679.3 442.7 678.7 442.7 680.0 443.8 C681.3 444.9 680.0 445.1 682.0 445.5 C684.0 445.9 683.3 445.3 686.0 444.9 C688.7 444.5 685.7 444.7 690.0 444.2 C694.3 443.7 695.0 444.5 699.0 443.4 C703.0 442.3 700.0 442.6 702.0 441.0 C704.0 439.4 703.0 439.7 705.0 438.6 C707.0 437.5 706.0 437.7 708.0 437.8 C710.0 437.9 708.7 438.0 711.0 439.0 C713.3 440.0 712.0 440.7 715.0 440.9 C718.0 441.1 716.0 440.4 720.0 439.6 C724.0 438.8 723.7 439.8 727.0 438.6 C730.3 437.4 728.0 437.9 730.0 436.0 C732.0 434.1 730.7 434.0 733.0 432.8 C735.3 431.6 734.0 432.1 737.0 432.3 C740.0 432.5 737.7 433.3 742.0 433.5 C746.3 433.7 745.0 433.6 750.0 432.8 C755.0 432.0 753.3 432.1 757.0 431.0 C760.7 429.9 758.3 430.5 761.0 429.6 C763.7 428.7 763.0 428.6 765.0 428.2 C767.0 427.8 765.3 427.6 767.0 428.5 C768.7 429.4 768.7 429.8 770.0 431.0 C771.3 432.2 770.7 431.7 771.0 432.0 L771 468 L20 468 Z" fill="#ebf5fe"/>
<rect x="82" y="425" width="1" height="43" fill="#ccd4cc"/>
<rect x="82" y="463" width="1" height="5" fill="#000"/>
<rect x="274" y="425" width="1" height="43" fill="#ccd4cc"/>
<rect x="274" y="463" width="1" height="5" fill="#000"/>
<rect x="467" y="425" width="1" height="43" fill="#ccd4cc"/>
<rect x="467" y="463" width="1" height="5" fill="#000"/>
<rect x="660" y="425" width="1" height="43" fill="#ccd4cc"/>
<rect x="660" y="463" width="1" height="5" fill="#000"/>
<rect x="33" y="463" width="1" height="5" fill="#c3d5bd"/>
<rect x="129" y="463" width="1" height="5" fill="#c3d5bd"/>
<rect x="178" y="463" width="1" height="5" fill="#c3d5bd"/>
<rect x="226" y="463" width="1" height="5" fill="#c3d5bd"/>
<rect x="322" y="463" width="1" height="5" fill="#c3d5bd"/>
<rect x="370" y="463" width="1" height="5" fill="#c3d5bd"/>
<rect x="419" y="463" width="1" height="5" fill="#c3d5bd"/>
<rect x="515" y="463" width="1" height="5" fill="#c3d5bd"/>
<rect x="563" y="463" width="1" height="5" fill="#c3d5bd"/>
<rect x="611" y="463" width="1" height="5" fill="#c3d5bd"/>
<rect x="708" y="463" width="1" height="5" fill="#c3d5bd"/>
<rect x="756" y="463" width="1" height="5" fill="#c3d5bd"/>
<path d="M20.0 465.8 C21.3 464.5 21.3 463.4 24.0 462.0 C26.7 460.6 25.0 461.2 28.0 461.6 C31.0 462.0 29.0 462.2 33.0 463.2 C37.0 464.2 36.0 463.9 40.0 464.6 C44.0 465.3 41.7 465.5 45.0 465.3 C48.3 465.1 46.0 465.3 50.0 464.0 C54.0 462.7 53.7 461.7 57.0 461.4 C60.3 461.1 58.0 461.8 60.0 463.0 C62.0 464.2 61.0 464.7 63.0 465.0 C65.0 465.3 63.7 464.8 66.0 464.0 C68.3 463.2 66.7 463.2 70.0 462.5 C73.3 461.8 72.7 462.7 76.0 462.0 C79.3 461.3 77.3 461.5 80.0 460.5 C82.7 459.5 82.0 459.6 84.0 459.0 C86.0 458.4 84.3 458.2 86.0 458.7 C87.7 459.2 86.7 459.4 89.0 460.5 C91.3 461.6 89.7 461.4 93.0 462.0 C96.3 462.6 95.0 462.3 99.0 462.3 C103.0 462.3 101.7 462.6 105.0 462.0 C108.3 461.4 106.3 461.8 109.0 460.5 C111.7 459.2 111.0 459.0 113.0 458.0 C115.0 457.0 113.3 457.4 115.0 457.6 C116.7 457.8 115.7 457.0 118.0 458.5 C120.3 460.0 118.7 461.0 122.0 462.0 C125.3 463.0 124.3 462.0 128.0 461.6 C131.7 461.2 130.0 461.1 133.0 460.8 C136.0 460.5 134.3 461.5 137.0 460.7 C139.7 459.9 138.7 459.8 141.0 458.5 C143.3 457.2 142.3 457.4 144.0 456.9 C145.7 456.4 144.3 456.2 146.0 456.9 C147.7 457.6 147.0 457.6 149.0 459.0 C151.0 460.4 149.0 460.3 152.0 461.2 C155.0 462.1 153.7 461.5 158.0 461.6 C162.3 461.7 161.3 461.9 165.0 461.4 C168.7 460.9 166.3 460.9 169.0 460.0 C171.7 459.1 170.7 458.9 173.0 458.7 C175.3 458.5 173.7 458.5 176.0 459.3 C178.3 460.1 177.7 460.1 180.0 461.0 C182.3 461.9 179.7 461.8 183.0 462.0 C186.3 462.2 186.0 461.9 190.0 461.5 C194.0 461.1 191.7 461.2 195.0 460.8 C198.3 460.4 196.7 460.9 200.0 460.2 C203.3 459.5 201.7 458.5 205.0 458.7 C208.3 458.9 207.0 460.1 210.0 460.7 C213.0 461.3 211.3 460.6 214.0 460.4 C216.7 460.2 215.0 459.7 218.0 460.0 C221.0 460.3 220.3 461.4 223.0 461.4 C225.7 461.4 223.7 461.8 226.0 460.0 C228.3 458.2 227.3 458.1 230.0 456.0 C232.7 453.9 231.7 454.1 234.0 453.8 C236.3 453.5 235.0 454.1 237.0 455.0 C239.0 455.9 236.7 456.0 240.0 456.4 C243.3 456.8 242.3 456.3 247.0 456.2 C251.7 456.1 250.3 456.6 254.0 456.0 C257.7 455.4 255.7 455.5 258.0 454.5 C260.3 453.5 259.3 453.6 261.0 453.0 C262.7 452.4 261.3 452.3 263.0 452.6 C264.7 452.9 263.7 452.6 266.0 454.0 C268.3 455.4 266.3 455.8 270.0 456.9 C273.7 458.0 272.0 457.1 277.0 457.3 C282.0 457.5 281.0 458.0 285.0 457.6 C289.0 457.2 286.3 457.1 289.0 456.0 C291.7 454.9 290.3 454.5 293.0 454.3 C295.7 454.1 294.0 454.5 297.0 455.5 C300.0 456.5 298.7 457.1 302.0 457.4 C305.3 457.7 303.7 456.3 307.0 456.4 C310.3 456.5 309.0 457.6 312.0 457.6 C315.0 457.6 313.7 457.2 316.0 456.5 C318.3 455.8 316.7 455.6 319.0 455.6 C321.3 455.6 320.0 455.7 323.0 456.5 C326.0 457.3 324.0 457.6 328.0 458.1 C332.0 458.6 331.3 457.9 335.0 458.1 C338.7 458.3 336.3 458.4 339.0 458.8 C341.7 459.2 340.0 459.5 343.0 459.4 C346.0 459.3 345.0 459.1 348.0 458.4 C351.0 457.7 349.3 457.5 352.0 457.4 C354.7 457.3 353.3 457.5 356.0 458.2 C358.7 458.9 356.0 458.9 360.0 459.4 C364.0 459.9 363.0 459.5 368.0 459.8 C373.0 460.1 370.3 460.3 375.0 460.2 C379.7 460.1 378.0 459.3 382.0 459.4 C386.0 459.5 383.7 459.8 387.0 460.4 C390.3 461.0 389.0 461.3 392.0 461.2 C395.0 461.1 392.3 461.0 396.0 460.2 C399.7 459.4 399.3 459.8 403.0 458.7 C406.7 457.6 404.3 458.0 407.0 457.0 C409.7 456.0 408.0 455.4 411.0 455.6 C414.0 455.8 412.7 456.9 416.0 457.6 C419.3 458.3 417.7 458.0 421.0 457.6 C424.3 457.2 422.3 456.6 426.0 456.4 C429.7 456.2 429.0 457.2 432.0 456.9 C435.0 456.6 433.0 456.4 435.0 455.5 C437.0 454.6 436.0 454.7 438.0 454.3 C440.0 453.9 439.3 453.8 441.0 454.3 C442.7 454.8 441.3 454.7 443.0 455.8 C444.7 456.9 443.7 457.4 446.0 457.6 C448.3 457.8 447.3 457.2 450.0 456.5 C452.7 455.8 451.3 455.4 454.0 455.6 C456.7 455.8 455.0 455.9 458.0 457.0 C461.0 458.1 460.3 458.6 463.0 458.9 C465.7 459.2 464.0 458.7 466.0 458.0 C468.0 457.3 467.0 456.9 469.0 456.9 C471.0 456.9 469.7 457.3 472.0 458.0 C474.3 458.7 472.3 458.7 476.0 458.9 C479.7 459.1 478.3 458.9 483.0 458.6 C487.7 458.3 486.0 458.8 490.0 458.1 C494.0 457.4 492.0 457.5 495.0 456.5 C498.0 455.5 496.7 455.3 499.0 455.1 C501.3 454.9 499.7 455.4 502.0 456.0 C504.3 456.6 502.7 457.0 506.0 456.9 C509.3 456.8 508.0 456.0 512.0 455.6 C516.0 455.2 514.3 456.0 518.0 455.6 C521.7 455.2 519.7 455.2 523.0 454.5 C526.3 453.8 524.7 453.9 528.0 453.6 C531.3 453.3 529.7 453.4 533.0 453.5 C536.3 453.6 535.0 454.1 538.0 453.8 C541.0 453.5 539.7 453.3 542.0 452.6 C544.3 451.9 542.3 452.2 545.0 451.8 C547.7 451.4 546.7 451.7 550.0 451.5 C553.3 451.3 551.7 450.9 555.0 451.3 C558.3 451.7 556.7 451.8 560.0 452.8 C563.3 453.8 561.0 453.8 565.0 454.3 C569.0 454.8 567.0 454.4 572.0 454.4 C577.0 454.4 576.0 454.8 580.0 454.3 C584.0 453.8 581.3 454.2 584.0 453.0 C586.7 451.8 585.0 451.5 588.0 450.8 C591.0 450.1 589.7 450.8 593.0 451.0 C596.3 451.2 595.0 451.0 598.0 451.3 C601.0 451.6 599.3 451.6 602.0 451.9 C604.7 452.2 603.3 452.4 606.0 452.3 C608.7 452.2 607.7 452.1 610.0 451.7 C612.3 451.3 611.0 451.6 613.0 451.0 C615.0 450.4 614.0 450.6 616.0 450.0 C618.0 449.4 616.7 449.1 619.0 449.3 C621.3 449.5 621.0 450.6 623.0 450.5 C625.0 450.4 623.7 450.0 625.0 449.0 C626.3 448.0 625.3 447.6 627.0 447.5 C628.7 447.4 628.0 448.0 630.0 448.8 C632.0 449.6 630.3 449.6 633.0 450.0 C635.7 450.4 635.3 450.7 638.0 450.0 C640.7 449.3 638.7 449.5 641.0 448.0 C643.3 446.5 642.3 446.5 645.0 445.5 C647.7 444.5 646.7 444.7 649.0 445.0 C651.3 445.3 650.0 445.3 652.0 446.3 C654.0 447.3 652.0 447.4 655.0 448.0 C658.0 448.6 657.7 448.1 661.0 448.0 C664.3 447.9 662.7 447.9 665.0 447.6 C667.3 447.3 665.7 447.9 668.0 447.0 C670.3 446.1 669.3 446.4 672.0 444.8 C674.7 443.2 674.0 443.1 676.0 442.2 C678.0 441.3 676.7 441.7 678.0 442.2 C679.3 442.7 678.7 442.7 680.0 443.8 C681.3 444.9 680.0 445.1 682.0 445.5 C684.0 445.9 683.3 445.3 686.0 444.9 C688.7 444.5 685.7 444.7 690.0 444.2 C694.3 443.7 695.0 444.5 699.0 443.4 C703.0 442.3 700.0 442.6 702.0 441.0 C704.0 439.4 703.0 439.7 705.0 438.6 C707.0 437.5 706.0 437.7 708.0 437.8 C710.0 437.9 708.7 438.0 711.0 439.0 C713.3 440.0 712.0 440.7 715.0 440.9 C718.0 441.1 716.0 440.4 720.0 439.6 C724.0 438.8 723.7 439.8 727.0 438.6 C730.3 437.4 728.0 437.9 730.0 436.0 C732.0 434.1 730.7 434.0 733.0 432.8 C735.3 431.6 734.0 432.1 737.0 432.3 C740.0 432.5 737.7 433.3 742.0 433.5 C746.3 433.7 745.0 433.6 750.0 432.8 C755.0 432.0 753.3 432.1 757.0 431.0 C760.7 429.9 758.3 430.5 761.0 429.6 C763.7 428.7 763.0 428.6 765.0 428.2 C767.0 427.8 765.3 427.6 767.0 428.5 C768.7 429.4 768.7 429.8 770.0 431.0 C771.3 432.2 770.7 431.7 771.0 432.0" fill="none" stroke="#2b7ddd" stroke-width="1.55" stroke-linecap="round" stroke-linejoin="round"/>
<rect x="20" y="468" width="751" height="13" fill="url(#sb)"/>
<rect x="6" y="481" width="778" height="1" fill="#3a3a3a"/>
<rect x="392.2" y="471.8" width="0.9" height="4.9" fill="#ffffff"/>
<rect x="392.8" y="471.8" width="1" height="4.9" fill="#5c7690"/>
<rect x="394.3" y="471.8" width="0.9" height="4.9" fill="#ffffff"/>
<rect x="394.9" y="471.8" width="1" height="4.9" fill="#5c7690"/>
<rect x="396.4" y="471.8" width="0.9" height="4.9" fill="#ffffff"/>
<rect x="397.0" y="471.8" width="1" height="4.9" fill="#5c7690"/>
<rect x="398.5" y="471.8" width="0.9" height="4.9" fill="#ffffff"/>
<rect x="399.1" y="471.8" width="1" height="4.9" fill="#5c7690"/>
<rect x="6" y="468.6" width="13.5" height="12.8" rx="1" fill="url(#btn)" stroke="#333" stroke-width="1.2"/>
<rect x="771.5" y="468.6" width="13" height="12.8" rx="1" fill="url(#btn)" stroke="#333" stroke-width="1.2"/>
<path d="M14.6 471.6 L9.9 474.9 L14.6 478.2" fill="none" stroke="#111" stroke-width="2.4"/>
<path d="M775.6 471.6 L780.3 474.9 L775.6 478.2" fill="none" stroke="#111" stroke-width="2.4"/>
<circle cx="412.8" cy="15.6" r="2.4" fill="#0f9a43"/>
<circle cx="496.6" cy="15.6" r="2.4" fill="#e37878"/>
<circle cx="607" cy="15.6" r="2.4" fill="#8fb1e3"/>
</svg>
<div class="t lg" style="left:421.5px;color:#0f9a43">Native 0.66%</div>
<div class="t lg" style="left:503.8px;color:#e37878;letter-spacing:-0.2px;word-spacing:1.6px">6to4/Teredo 0.02%</div>
<div class="t lg" style="left:616px;color:#8fb1e3;letter-spacing:-0.3px;word-spacing:1.5px">Total IPv6 0.68%</div>
<div style="position:absolute;left:706.5px;top:11px;width:1px;height:8px;background:#333"></div>
<div class="t" style="left:712.5px;top:10px;font-size:10px;color:#000;letter-spacing:0.16px">July 30, 2012</div>
<div class="t yl" style="top:27.3px">0.8%</div><div class="t yl" style="top:72.0px">0.7%</div><div class="t yl" style="top:116.6px">0.6%</div><div class="t yl" style="top:161.2px">0.5%</div><div class="t yl" style="top:205.9px">0.4%</div><div class="t yl" style="top:250.6px">0.3%</div><div class="t yl" style="top:295.2px">0.2%</div><div class="t yl" style="top:339.9px">0.1%</div><div class="t yl" style="top:384.5px">0.0%</div>
<div class="t bl" style="left:160.2px;top:405px">2009</div><div class="t bl" style="left:359.2px;top:405px">2010</div><div class="t bl" style="left:558.2px;top:405px">2011</div><div class="t bl" style="left:757.2px;top:405px">2012</div>
<div class="t sl" style="left:89.3px;top:425.5px">2009</div><div class="t sl" style="left:282.0px;top:425.5px">2010</div><div class="t sl" style="left:474.7px;top:425.5px">2011</div><div class="t sl" style="left:667.4px;top:425.5px">2012</div>
</body></html>
